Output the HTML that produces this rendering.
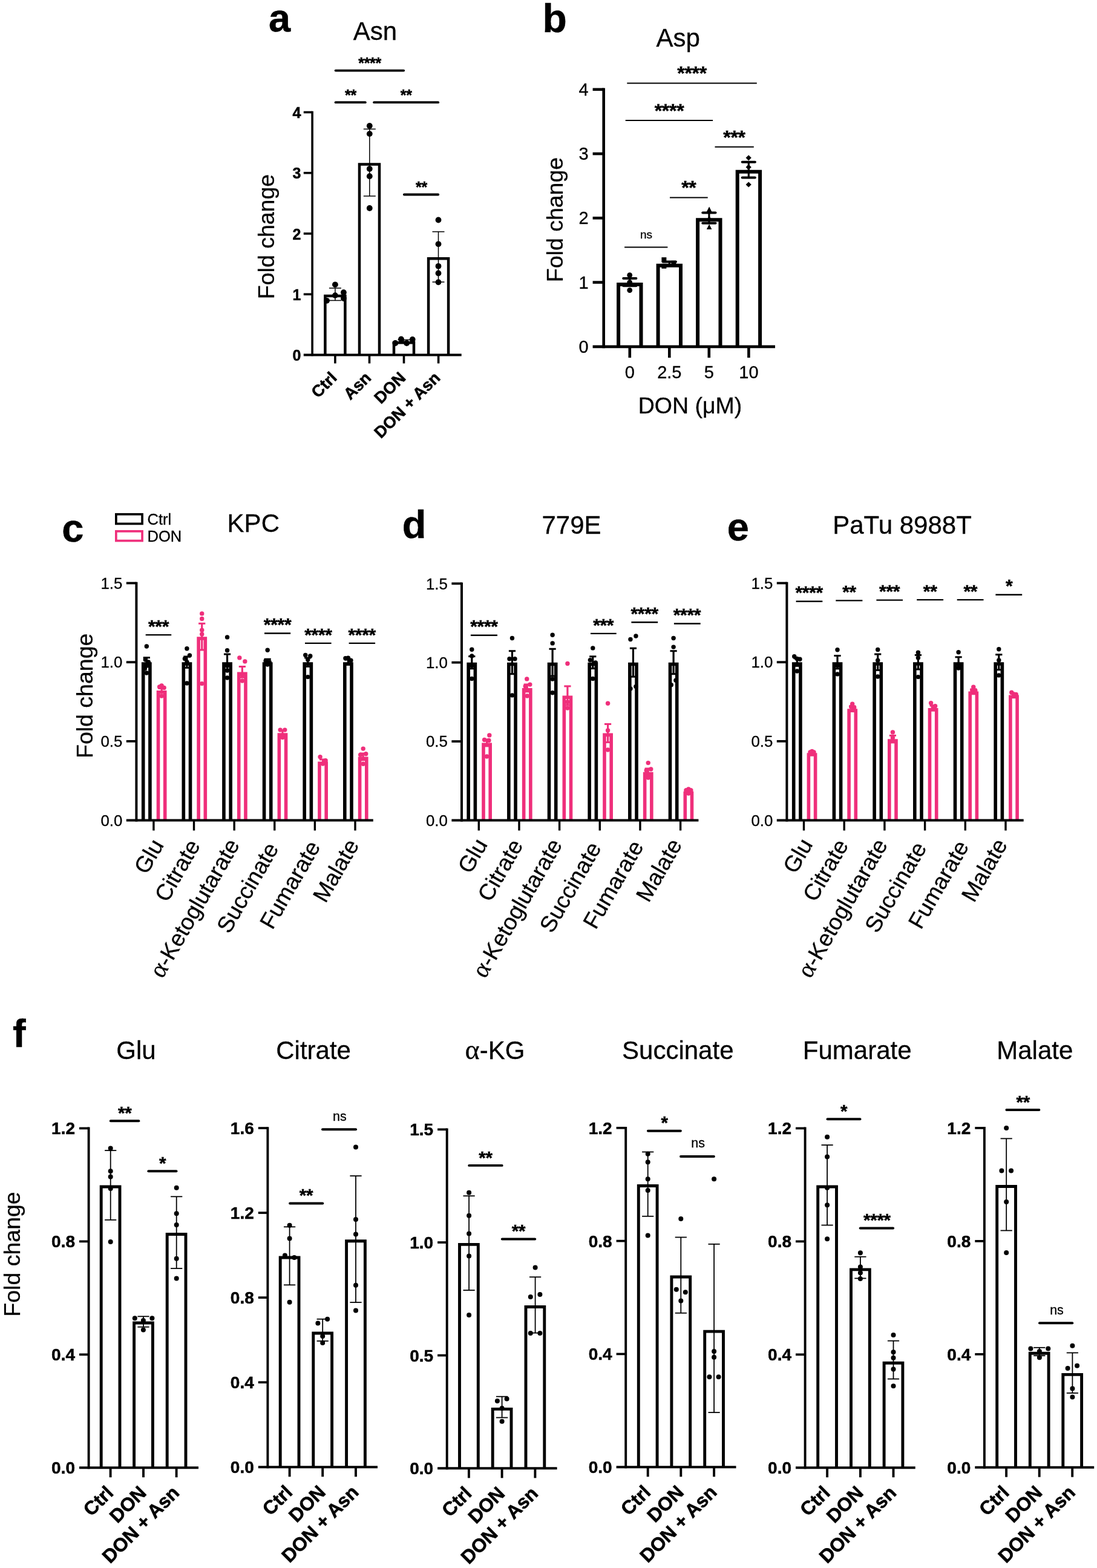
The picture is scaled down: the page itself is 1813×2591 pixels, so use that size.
<!DOCTYPE html>
<html lang="en"><head><meta charset="utf-8"><title>Figure</title>
<style>html,body{margin:0;padding:0;background:#fff}svg{display:block}text{font-family:"Liberation Sans",sans-serif;stroke:#000;stroke-width:.3px}text[font-weight=bold]{stroke-width:.5px}</style></head>
<body>
<svg width="1813" height="2591" viewBox="0 0 1813 2591">
<rect x="0" y="0" width="1813" height="2591" fill="#fff"/>
<g id="panel-a">
<text x="444" y="52.4" font-size="65" font-weight="bold" text-anchor="start">a</text>
<text x="620" y="65.7" font-size="42" text-anchor="middle">Asn</text>
<text x="453.2" y="391" font-size="37.5" text-anchor="middle" transform="rotate(-90 453.2 391)">Fold change</text>
<path d="M537.4 586.5V489H570.4V586.5" fill="#fff" stroke="#000" stroke-width="4.5" stroke-linejoin="miter"/>
<path d="M594 586.5V271.46H627V586.5" fill="#fff" stroke="#000" stroke-width="4.5" stroke-linejoin="miter"/>
<path d="M651 586.5V566.19H684V586.5" fill="#fff" stroke="#000" stroke-width="4.5" stroke-linejoin="miter"/>
<path d="M708.1 586.5V427.35H741.1V586.5" fill="#fff" stroke="#000" stroke-width="4.5" stroke-linejoin="miter"/>
<line x1="516.1" y1="183.7" x2="516.1" y2="588.3" stroke="#000" stroke-width="3.6" stroke-linecap="butt"/>
<line x1="501.8" y1="586.5" x2="762.7" y2="586.5" stroke="#000" stroke-width="3.8" stroke-linecap="butt"/>
<text x="497.5" y="596.1" font-size="25" font-weight="bold" text-anchor="end">0</text>
<line x1="501.8" y1="486.25" x2="516.1" y2="486.25" stroke="#000" stroke-width="3.6" stroke-linecap="butt"/>
<text x="497.5" y="495.85" font-size="25" font-weight="bold" text-anchor="end">1</text>
<line x1="501.8" y1="386" x2="516.1" y2="386" stroke="#000" stroke-width="3.6" stroke-linecap="butt"/>
<text x="497.5" y="395.6" font-size="25" font-weight="bold" text-anchor="end">2</text>
<line x1="501.8" y1="285.75" x2="516.1" y2="285.75" stroke="#000" stroke-width="3.6" stroke-linecap="butt"/>
<text x="497.5" y="295.35" font-size="25" font-weight="bold" text-anchor="end">3</text>
<line x1="501.8" y1="185.5" x2="516.1" y2="185.5" stroke="#000" stroke-width="3.6" stroke-linecap="butt"/>
<text x="497.5" y="195.1" font-size="25" font-weight="bold" text-anchor="end">4</text>
<line x1="553.9" y1="586.5" x2="553.9" y2="600.5" stroke="#000" stroke-width="3.6" stroke-linecap="butt"/>
<line x1="610.5" y1="586.5" x2="610.5" y2="600.5" stroke="#000" stroke-width="3.6" stroke-linecap="butt"/>
<line x1="667.5" y1="586.5" x2="667.5" y2="600.5" stroke="#000" stroke-width="3.6" stroke-linecap="butt"/>
<line x1="724.6" y1="586.5" x2="724.6" y2="600.5" stroke="#000" stroke-width="3.6" stroke-linecap="butt"/>
<line x1="553.9" y1="476.1" x2="553.9" y2="496.5" stroke="#000" stroke-width="1.5" stroke-linecap="butt"/>
<line x1="543.9" y1="476.1" x2="563.9" y2="476.1" stroke="#000" stroke-width="1.5" stroke-linecap="butt"/>
<line x1="543.9" y1="496.5" x2="563.9" y2="496.5" stroke="#000" stroke-width="1.5" stroke-linecap="butt"/>
<line x1="610.8" y1="213.3" x2="610.8" y2="324" stroke="#000" stroke-width="1.5" stroke-linecap="butt"/>
<line x1="600.8" y1="213.3" x2="620.8" y2="213.3" stroke="#000" stroke-width="1.5" stroke-linecap="butt"/>
<line x1="600.8" y1="324" x2="620.8" y2="324" stroke="#000" stroke-width="1.5" stroke-linecap="butt"/>
<line x1="667.5" y1="561.5" x2="667.5" y2="566.5" stroke="#000" stroke-width="1.5" stroke-linecap="butt"/>
<line x1="657.5" y1="561.5" x2="677.5" y2="561.5" stroke="#000" stroke-width="1.5" stroke-linecap="butt"/>
<line x1="657.5" y1="566.5" x2="677.5" y2="566.5" stroke="#000" stroke-width="1.5" stroke-linecap="butt"/>
<line x1="724.5" y1="382.9" x2="724.5" y2="466" stroke="#000" stroke-width="1.5" stroke-linecap="butt"/>
<line x1="714.5" y1="382.9" x2="734.5" y2="382.9" stroke="#000" stroke-width="1.5" stroke-linecap="butt"/>
<line x1="714.5" y1="466" x2="734.5" y2="466" stroke="#000" stroke-width="1.5" stroke-linecap="butt"/>
<circle cx="553.9" cy="470.3" r="4.9" fill="#000"/>
<circle cx="567.9" cy="483.2" r="4.9" fill="#000"/>
<circle cx="553.9" cy="488.1" r="4.9" fill="#000"/>
<circle cx="567.9" cy="493" r="4.9" fill="#000"/>
<circle cx="540" cy="496.8" r="4.9" fill="#000"/>
<circle cx="610.8" cy="208" r="4.9" fill="#000"/>
<circle cx="610.8" cy="221.1" r="4.9" fill="#000"/>
<circle cx="610.8" cy="279" r="4.9" fill="#000"/>
<circle cx="610.8" cy="291.2" r="4.9" fill="#000"/>
<circle cx="610.8" cy="344" r="4.9" fill="#000"/>
<circle cx="653.3" cy="567" r="4.9" fill="#000"/>
<circle cx="663" cy="560.4" r="4.9" fill="#000"/>
<circle cx="672.1" cy="567" r="4.9" fill="#000"/>
<circle cx="681.7" cy="561" r="4.9" fill="#000"/>
<circle cx="724.5" cy="363.5" r="4.9" fill="#000"/>
<circle cx="724.5" cy="403.3" r="4.9" fill="#000"/>
<circle cx="724.5" cy="439.8" r="4.9" fill="#000"/>
<circle cx="724.5" cy="451.5" r="4.9" fill="#000"/>
<circle cx="724.5" cy="466.3" r="4.9" fill="#000"/>
<line x1="554.6" y1="116.6" x2="667.2" y2="116.6" stroke="#000" stroke-width="3.8" stroke-linecap="round"/>
<text x="611.1" y="113.4" font-size="25" font-weight="bold" text-anchor="middle" letter-spacing="-0.3">****</text>
<line x1="554.6" y1="169.2" x2="603.8" y2="169.2" stroke="#000" stroke-width="3.8" stroke-linecap="round"/>
<text x="579.4" y="166" font-size="25" font-weight="bold" text-anchor="middle" letter-spacing="-0.3">**</text>
<line x1="618.1" y1="169.2" x2="724.2" y2="169.2" stroke="#000" stroke-width="3.8" stroke-linecap="round"/>
<text x="671.2" y="166" font-size="25" font-weight="bold" text-anchor="middle" letter-spacing="-0.3">**</text>
<line x1="667.9" y1="321.5" x2="724.2" y2="321.5" stroke="#000" stroke-width="3.8" stroke-linecap="round"/>
<text x="696.5" y="318.3" font-size="25" font-weight="bold" text-anchor="middle" letter-spacing="-0.3">**</text>
<text x="558.4" y="626" font-size="27" font-weight="bold" text-anchor="end" transform="rotate(-45 558.4 626)" style="stroke-width:.6px">Ctrl</text>
<text x="615" y="626" font-size="27" font-weight="bold" text-anchor="end" transform="rotate(-45 615 626)" style="stroke-width:.6px">Asn</text>
<text x="672" y="626" font-size="27" font-weight="bold" text-anchor="end" transform="rotate(-45 672 626)" style="stroke-width:.6px">DON</text>
<text x="729.1" y="626" font-size="27" font-weight="bold" text-anchor="end" transform="rotate(-45 729.1 626)" style="stroke-width:.6px">DON + Asn</text>
</g>
<g id="panel-b">
<text x="896.5" y="53" font-size="66" font-weight="bold" text-anchor="start">b</text>
<text x="1120.8" y="76.7" font-size="42" text-anchor="middle">Asp</text>
<text x="929.8" y="363" font-size="37.5" text-anchor="middle" transform="rotate(-90 929.8 363)">Fold change</text>
<path d="M1022.1 572.8V470.08H1059.5V572.8" fill="#fff" stroke="#000" stroke-width="6" stroke-linejoin="miter"/>
<path d="M1087.6 572.8V438.84H1125V572.8" fill="#fff" stroke="#000" stroke-width="6" stroke-linejoin="miter"/>
<path d="M1153.1 572.8V363.3H1190.5V572.8" fill="#fff" stroke="#000" stroke-width="6" stroke-linejoin="miter"/>
<path d="M1218.7 572.8V283.82H1256.1V572.8" fill="#fff" stroke="#000" stroke-width="6" stroke-linejoin="miter"/>
<line x1="997.7" y1="145.5" x2="997.7" y2="575.2" stroke="#000" stroke-width="4.6" stroke-linecap="butt"/>
<line x1="979.6" y1="572.8" x2="1281" y2="572.8" stroke="#000" stroke-width="4.8" stroke-linecap="butt"/>
<text x="972.6" y="582.8" font-size="29" text-anchor="end">0</text>
<line x1="979.6" y1="466.55" x2="997.7" y2="466.55" stroke="#000" stroke-width="4.6" stroke-linecap="butt"/>
<text x="972.6" y="476.55" font-size="29" text-anchor="end">1</text>
<line x1="979.6" y1="360.3" x2="997.7" y2="360.3" stroke="#000" stroke-width="4.6" stroke-linecap="butt"/>
<text x="972.6" y="370.3" font-size="29" text-anchor="end">2</text>
<line x1="979.6" y1="254.05" x2="997.7" y2="254.05" stroke="#000" stroke-width="4.6" stroke-linecap="butt"/>
<text x="972.6" y="264.05" font-size="29" text-anchor="end">3</text>
<line x1="979.6" y1="147.8" x2="997.7" y2="147.8" stroke="#000" stroke-width="4.6" stroke-linecap="butt"/>
<text x="972.6" y="157.8" font-size="29" text-anchor="end">4</text>
<line x1="1040.8" y1="572.8" x2="1040.8" y2="591.1" stroke="#000" stroke-width="4.6" stroke-linecap="butt"/>
<line x1="1106.3" y1="572.8" x2="1106.3" y2="591.1" stroke="#000" stroke-width="4.6" stroke-linecap="butt"/>
<line x1="1171.8" y1="572.8" x2="1171.8" y2="591.1" stroke="#000" stroke-width="4.6" stroke-linecap="butt"/>
<line x1="1237.4" y1="572.8" x2="1237.4" y2="591.1" stroke="#000" stroke-width="4.6" stroke-linecap="butt"/>
<text x="1040.8" y="625" font-size="29" text-anchor="middle">0</text>
<text x="1106.3" y="625" font-size="29" text-anchor="middle">2.5</text>
<text x="1171.8" y="625" font-size="29" text-anchor="middle">5</text>
<text x="1237.4" y="625" font-size="29" text-anchor="middle">10</text>
<text x="1140.5" y="682.7" font-size="37.5" text-anchor="middle">DON (μM)</text>
<line x1="1040.8" y1="460.1" x2="1040.8" y2="472.2" stroke="#000" stroke-width="3.2" stroke-linecap="butt"/>
<line x1="1030.2" y1="460.1" x2="1051.4" y2="460.1" stroke="#000" stroke-width="4" stroke-linecap="round"/>
<line x1="1030.2" y1="472.2" x2="1051.4" y2="472.2" stroke="#000" stroke-width="4" stroke-linecap="round"/>
<line x1="1106.3" y1="432.5" x2="1106.3" y2="438.8" stroke="#000" stroke-width="3.2" stroke-linecap="butt"/>
<line x1="1095.7" y1="432.5" x2="1116.9" y2="432.5" stroke="#000" stroke-width="4" stroke-linecap="round"/>
<line x1="1095.7" y1="438.8" x2="1116.9" y2="438.8" stroke="#000" stroke-width="4" stroke-linecap="round"/>
<line x1="1171.9" y1="351.4" x2="1171.9" y2="368.8" stroke="#000" stroke-width="3.2" stroke-linecap="butt"/>
<line x1="1161.3" y1="351.4" x2="1182.5" y2="351.4" stroke="#000" stroke-width="4" stroke-linecap="round"/>
<line x1="1161.3" y1="368.8" x2="1182.5" y2="368.8" stroke="#000" stroke-width="4" stroke-linecap="round"/>
<line x1="1237.3" y1="267.8" x2="1237.3" y2="293.5" stroke="#000" stroke-width="3.2" stroke-linecap="butt"/>
<line x1="1226.7" y1="267.8" x2="1247.9" y2="267.8" stroke="#000" stroke-width="4" stroke-linecap="round"/>
<line x1="1226.7" y1="293.5" x2="1247.9" y2="293.5" stroke="#000" stroke-width="4" stroke-linecap="round"/>
<circle cx="1040.7" cy="454.7" r="4.4" fill="#000"/>
<circle cx="1040.7" cy="466.7" r="4.4" fill="#000"/>
<circle cx="1040.7" cy="479.6" r="4.4" fill="#000"/>
<polygon points="1093.4,425.2 1101.4,425.2 1101.4,433.2 1093.4,433.2" fill="#000"/>
<polygon points="1093.4,435.8 1101.4,435.8 1101.4,443.8 1093.4,443.8" fill="#000"/>
<polygon points="1109.4,430.8 1117.4,430.8 1117.4,438.8 1109.4,438.8" fill="#000"/>
<polygon points="1172.1,341.4 1176.4,349.9 1167.8,349.9" fill="#000"/>
<polygon points="1172.1,356 1176.4,364.5 1167.8,364.5" fill="#000"/>
<polygon points="1172.1,370.6 1176.4,379.1 1167.8,379.1" fill="#000"/>
<polygon points="1237.2,256.2 1241.8,260.8 1237.2,265.4 1232.6,260.8" fill="#000"/>
<polygon points="1237.2,271.6 1241.8,276.2 1237.2,280.8 1232.6,276.2" fill="#000"/>
<polygon points="1237.2,300.4 1241.8,305 1237.2,309.6 1232.6,305" fill="#000"/>
<line x1="1036.3" y1="137.4" x2="1250.8" y2="137.4" stroke="#000" stroke-width="2" stroke-linecap="butt"/>
<text x="1143.6" y="132.2" font-size="32" font-weight="bold" text-anchor="middle" letter-spacing="-0.3">****</text>
<line x1="1033.7" y1="198.9" x2="1178.1" y2="198.9" stroke="#000" stroke-width="2" stroke-linecap="butt"/>
<text x="1106" y="193.7" font-size="32" font-weight="bold" text-anchor="middle" letter-spacing="-0.3">****</text>
<line x1="1181.5" y1="242.7" x2="1245.8" y2="242.7" stroke="#000" stroke-width="2" stroke-linecap="butt"/>
<text x="1213.5" y="237.5" font-size="32" font-weight="bold" text-anchor="middle" letter-spacing="-0.3">***</text>
<line x1="1107" y1="326.4" x2="1169.7" y2="326.4" stroke="#000" stroke-width="2" stroke-linecap="butt"/>
<text x="1138.3" y="321.2" font-size="32" font-weight="bold" text-anchor="middle" letter-spacing="-0.3">**</text>
<line x1="1032.1" y1="408.6" x2="1103.4" y2="408.6" stroke="#000" stroke-width="2" stroke-linecap="butt"/>
<text x="1068" y="393.7" font-size="19" text-anchor="middle">ns</text>
</g>
<g id="legend">
<rect x="191.85" y="849.75" width="43.2" height="15.7" fill="#fff" stroke="#000" stroke-width="3.7"/>
<rect x="191.85" y="877.85" width="43.2" height="15.7" fill="#fff" stroke="#EF2F7B" stroke-width="3.7"/>
<text x="243.6" y="866.8" font-size="25.5" text-anchor="start">Ctrl</text>
<text x="243.6" y="894.8" font-size="25.5" text-anchor="start">DON</text>
<text x="153.3" y="1149.8" font-size="37.5" text-anchor="middle" transform="rotate(-90 153.3 1149.8)">Fold change</text>
</g>
<g id="panel-c">
<path d="M236.7 1355.5V1097H247.9V1355.5" fill="#fff" stroke="#000" stroke-width="5.6" stroke-linejoin="miter"/>
<path d="M261.5 1355.5V1143.77H272.7V1355.5" fill="#fff" stroke="#EF2F7B" stroke-width="5.6" stroke-linejoin="miter"/>
<path d="M303.32 1355.5V1097H314.52V1355.5" fill="#fff" stroke="#000" stroke-width="5.6" stroke-linejoin="miter"/>
<path d="M328.12 1355.5V1054.93H339.32V1355.5" fill="#fff" stroke="#EF2F7B" stroke-width="5.6" stroke-linejoin="miter"/>
<path d="M369.94 1355.5V1097H381.14V1355.5" fill="#fff" stroke="#000" stroke-width="5.6" stroke-linejoin="miter"/>
<path d="M394.74 1355.5V1113.2H405.94V1355.5" fill="#fff" stroke="#EF2F7B" stroke-width="5.6" stroke-linejoin="miter"/>
<path d="M436.56 1355.5V1097H447.76V1355.5" fill="#fff" stroke="#000" stroke-width="5.6" stroke-linejoin="miter"/>
<path d="M461.36 1355.5V1214.06H472.56V1355.5" fill="#fff" stroke="#EF2F7B" stroke-width="5.6" stroke-linejoin="miter"/>
<path d="M503.18 1355.5V1097H514.38V1355.5" fill="#fff" stroke="#000" stroke-width="5.6" stroke-linejoin="miter"/>
<path d="M527.98 1355.5V1261.36H539.18V1355.5" fill="#fff" stroke="#EF2F7B" stroke-width="5.6" stroke-linejoin="miter"/>
<path d="M569.8 1355.5V1097H581V1355.5" fill="#fff" stroke="#000" stroke-width="5.6" stroke-linejoin="miter"/>
<path d="M594.6 1355.5V1253.26H605.8V1355.5" fill="#fff" stroke="#EF2F7B" stroke-width="5.6" stroke-linejoin="miter"/>
<line x1="242.3" y1="1086.7" x2="242.3" y2="1101.7" stroke="#000" stroke-width="3.2" stroke-linecap="butt"/>
<line x1="236.7" y1="1086.7" x2="247.9" y2="1086.7" stroke="#000" stroke-width="3" stroke-linecap="butt"/>
<line x1="236.7" y1="1101.7" x2="247.9" y2="1101.7" stroke="#000" stroke-width="3" stroke-linecap="butt"/>
<line x1="267.1" y1="1137.5" x2="267.1" y2="1144.45" stroke="#EF2F7B" stroke-width="3.2" stroke-linecap="butt"/>
<line x1="261.5" y1="1137.5" x2="272.7" y2="1137.5" stroke="#EF2F7B" stroke-width="3" stroke-linecap="butt"/>
<line x1="261.5" y1="1144.45" x2="272.7" y2="1144.45" stroke="#EF2F7B" stroke-width="3" stroke-linecap="butt"/>
<line x1="308.92" y1="1085" x2="308.92" y2="1103.4" stroke="#000" stroke-width="3.2" stroke-linecap="butt"/>
<line x1="303.32" y1="1085" x2="314.52" y2="1085" stroke="#000" stroke-width="3" stroke-linecap="butt"/>
<line x1="303.32" y1="1103.4" x2="314.52" y2="1103.4" stroke="#000" stroke-width="3" stroke-linecap="butt"/>
<line x1="333.72" y1="1030.3" x2="333.72" y2="1073.96" stroke="#EF2F7B" stroke-width="3.2" stroke-linecap="butt"/>
<line x1="328.12" y1="1030.3" x2="339.32" y2="1030.3" stroke="#EF2F7B" stroke-width="3" stroke-linecap="butt"/>
<line x1="328.12" y1="1073.96" x2="339.32" y2="1073.96" stroke="#EF2F7B" stroke-width="3" stroke-linecap="butt"/>
<line x1="375.54" y1="1081" x2="375.54" y2="1107.4" stroke="#000" stroke-width="3.2" stroke-linecap="butt"/>
<line x1="369.94" y1="1081" x2="381.14" y2="1081" stroke="#000" stroke-width="3" stroke-linecap="butt"/>
<line x1="369.94" y1="1107.4" x2="381.14" y2="1107.4" stroke="#000" stroke-width="3" stroke-linecap="butt"/>
<line x1="400.34" y1="1101.5" x2="400.34" y2="1119.3" stroke="#EF2F7B" stroke-width="3.2" stroke-linecap="butt"/>
<line x1="394.74" y1="1101.5" x2="405.94" y2="1101.5" stroke="#EF2F7B" stroke-width="3" stroke-linecap="butt"/>
<line x1="394.74" y1="1119.3" x2="405.94" y2="1119.3" stroke="#EF2F7B" stroke-width="3" stroke-linecap="butt"/>
<line x1="442.16" y1="1089.2" x2="442.16" y2="1099.2" stroke="#000" stroke-width="3.2" stroke-linecap="butt"/>
<line x1="436.56" y1="1089.2" x2="447.76" y2="1089.2" stroke="#000" stroke-width="3" stroke-linecap="butt"/>
<line x1="436.56" y1="1099.2" x2="447.76" y2="1099.2" stroke="#000" stroke-width="3" stroke-linecap="butt"/>
<line x1="466.96" y1="1207.5" x2="466.96" y2="1215.02" stroke="#EF2F7B" stroke-width="3.2" stroke-linecap="butt"/>
<line x1="461.36" y1="1207.5" x2="472.56" y2="1207.5" stroke="#EF2F7B" stroke-width="3" stroke-linecap="butt"/>
<line x1="461.36" y1="1215.02" x2="472.56" y2="1215.02" stroke="#EF2F7B" stroke-width="3" stroke-linecap="butt"/>
<line x1="508.78" y1="1087" x2="508.78" y2="1101.4" stroke="#000" stroke-width="3.2" stroke-linecap="butt"/>
<line x1="503.18" y1="1087" x2="514.38" y2="1087" stroke="#000" stroke-width="3" stroke-linecap="butt"/>
<line x1="503.18" y1="1101.4" x2="514.38" y2="1101.4" stroke="#000" stroke-width="3" stroke-linecap="butt"/>
<line x1="533.58" y1="1255" x2="533.58" y2="1262.12" stroke="#EF2F7B" stroke-width="3.2" stroke-linecap="butt"/>
<line x1="527.98" y1="1255" x2="539.18" y2="1255" stroke="#EF2F7B" stroke-width="3" stroke-linecap="butt"/>
<line x1="527.98" y1="1262.12" x2="539.18" y2="1262.12" stroke="#EF2F7B" stroke-width="3" stroke-linecap="butt"/>
<line x1="575.4" y1="1090" x2="575.4" y2="1098.4" stroke="#000" stroke-width="3.2" stroke-linecap="butt"/>
<line x1="569.8" y1="1090" x2="581" y2="1090" stroke="#000" stroke-width="3" stroke-linecap="butt"/>
<line x1="569.8" y1="1098.4" x2="581" y2="1098.4" stroke="#000" stroke-width="3" stroke-linecap="butt"/>
<line x1="600.2" y1="1245" x2="600.2" y2="1255.91" stroke="#EF2F7B" stroke-width="3.2" stroke-linecap="butt"/>
<line x1="594.6" y1="1245" x2="605.8" y2="1245" stroke="#EF2F7B" stroke-width="3" stroke-linecap="butt"/>
<line x1="594.6" y1="1255.91" x2="605.8" y2="1255.91" stroke="#EF2F7B" stroke-width="3" stroke-linecap="butt"/>
<circle cx="242.3" cy="1068" r="3.7" fill="#000"/>
<circle cx="240.3" cy="1090" r="3.7" fill="#000"/>
<circle cx="245.3" cy="1094" r="3.7" fill="#000"/>
<circle cx="242.3" cy="1100" r="3.7" fill="#000"/>
<circle cx="239.3" cy="1105" r="3.7" fill="#000"/>
<circle cx="242.3" cy="1112" r="3.7" fill="#000"/>
<circle cx="263.6" cy="1135" r="3.7" fill="#EF2F7B"/>
<circle cx="267.1" cy="1133" r="3.7" fill="#EF2F7B"/>
<circle cx="271.1" cy="1136.4" r="3.7" fill="#EF2F7B"/>
<circle cx="267.1" cy="1150" r="3.7" fill="#EF2F7B"/>
<circle cx="308.92" cy="1071.7" r="3.7" fill="#000"/>
<circle cx="313.42" cy="1083" r="3.7" fill="#000"/>
<circle cx="305.42" cy="1088.5" r="3.7" fill="#000"/>
<circle cx="308.92" cy="1094" r="3.7" fill="#000"/>
<circle cx="308.92" cy="1129" r="3.7" fill="#000"/>
<circle cx="333.72" cy="1013.9" r="3.7" fill="#EF2F7B"/>
<circle cx="333.72" cy="1022.5" r="3.7" fill="#EF2F7B"/>
<circle cx="333.72" cy="1041.3" r="3.7" fill="#EF2F7B"/>
<circle cx="333.72" cy="1048" r="3.7" fill="#EF2F7B"/>
<circle cx="333.72" cy="1129.6" r="3.7" fill="#EF2F7B"/>
<circle cx="375.54" cy="1052.9" r="3.7" fill="#000"/>
<circle cx="375.54" cy="1074.8" r="3.7" fill="#000"/>
<circle cx="375.54" cy="1100" r="3.7" fill="#000"/>
<circle cx="375.54" cy="1108" r="3.7" fill="#000"/>
<circle cx="375.54" cy="1120" r="3.7" fill="#000"/>
<circle cx="395.84" cy="1086.9" r="3.7" fill="#EF2F7B"/>
<circle cx="404.84" cy="1092.9" r="3.7" fill="#EF2F7B"/>
<circle cx="400.34" cy="1115" r="3.7" fill="#EF2F7B"/>
<circle cx="400.34" cy="1125" r="3.7" fill="#EF2F7B"/>
<circle cx="442.16" cy="1074.2" r="3.7" fill="#000"/>
<circle cx="439.16" cy="1092" r="3.7" fill="#000"/>
<circle cx="445.16" cy="1094" r="3.7" fill="#000"/>
<circle cx="442.16" cy="1098" r="3.7" fill="#000"/>
<circle cx="463.16" cy="1206.1" r="3.7" fill="#EF2F7B"/>
<circle cx="470.76" cy="1206.1" r="3.7" fill="#EF2F7B"/>
<circle cx="466.96" cy="1218.5" r="3.7" fill="#EF2F7B"/>
<circle cx="504.78" cy="1082.4" r="3.7" fill="#000"/>
<circle cx="512.78" cy="1084" r="3.7" fill="#000"/>
<circle cx="508.78" cy="1090" r="3.7" fill="#000"/>
<circle cx="508.78" cy="1118.6" r="3.7" fill="#000"/>
<circle cx="529.08" cy="1250.8" r="3.7" fill="#EF2F7B"/>
<circle cx="538.08" cy="1256.8" r="3.7" fill="#EF2F7B"/>
<circle cx="533.58" cy="1262" r="3.7" fill="#EF2F7B"/>
<circle cx="570.9" cy="1087.8" r="3.7" fill="#000"/>
<circle cx="575.4" cy="1087.2" r="3.7" fill="#000"/>
<circle cx="579.9" cy="1091.3" r="3.7" fill="#000"/>
<circle cx="600.2" cy="1237.1" r="3.7" fill="#EF2F7B"/>
<circle cx="595.7" cy="1247.2" r="3.7" fill="#EF2F7B"/>
<circle cx="604.7" cy="1245.8" r="3.7" fill="#EF2F7B"/>
<circle cx="600.2" cy="1262.3" r="3.7" fill="#EF2F7B"/>
<line x1="225.4" y1="961.65" x2="225.4" y2="1357.4" stroke="#000" stroke-width="4" stroke-linecap="butt"/>
<line x1="208.8" y1="1355.5" x2="616.8" y2="1355.5" stroke="#000" stroke-width="3.8" stroke-linecap="butt"/>
<text x="202.3" y="1364.7" font-size="25.8" text-anchor="end">0.0</text>
<line x1="208.8" y1="1224.85" x2="225.4" y2="1224.85" stroke="#000" stroke-width="3.8" stroke-linecap="butt"/>
<text x="202.3" y="1234.05" font-size="25.8" text-anchor="end">0.5</text>
<line x1="208.8" y1="1094.2" x2="225.4" y2="1094.2" stroke="#000" stroke-width="3.8" stroke-linecap="butt"/>
<text x="202.3" y="1103.4" font-size="25.8" text-anchor="end">1.0</text>
<line x1="208.8" y1="963.55" x2="225.4" y2="963.55" stroke="#000" stroke-width="3.8" stroke-linecap="butt"/>
<text x="202.3" y="972.75" font-size="25.8" text-anchor="end">1.5</text>
<line x1="253.9" y1="1355.5" x2="253.9" y2="1372.4" stroke="#000" stroke-width="3.4" stroke-linecap="butt"/>
<line x1="320.52" y1="1355.5" x2="320.52" y2="1372.4" stroke="#000" stroke-width="3.4" stroke-linecap="butt"/>
<line x1="387.14" y1="1355.5" x2="387.14" y2="1372.4" stroke="#000" stroke-width="3.4" stroke-linecap="butt"/>
<line x1="453.76" y1="1355.5" x2="453.76" y2="1372.4" stroke="#000" stroke-width="3.4" stroke-linecap="butt"/>
<line x1="520.38" y1="1355.5" x2="520.38" y2="1372.4" stroke="#000" stroke-width="3.4" stroke-linecap="butt"/>
<line x1="587" y1="1355.5" x2="587" y2="1372.4" stroke="#000" stroke-width="3.4" stroke-linecap="butt"/>
<line x1="240.7" y1="1049.1" x2="283.2" y2="1049.1" stroke="#000" stroke-width="2.4" stroke-linecap="butt"/>
<text x="262" y="1044.7" font-size="30" font-weight="bold" text-anchor="middle" letter-spacing="-0.3">***</text>
<line x1="437" y1="1046.5" x2="480.2" y2="1046.5" stroke="#000" stroke-width="2.4" stroke-linecap="butt"/>
<text x="458.6" y="1042.1" font-size="30" font-weight="bold" text-anchor="middle" letter-spacing="-0.3">****</text>
<line x1="504" y1="1062.9" x2="547.6" y2="1062.9" stroke="#000" stroke-width="2.4" stroke-linecap="butt"/>
<text x="525.9" y="1058.5" font-size="30" font-weight="bold" text-anchor="middle" letter-spacing="-0.3">****</text>
<line x1="576.6" y1="1062.9" x2="620.1" y2="1062.9" stroke="#000" stroke-width="2.4" stroke-linecap="butt"/>
<text x="598.2" y="1058.5" font-size="30" font-weight="bold" text-anchor="middle" letter-spacing="-0.3">****</text>
<text x="271.6" y="1396.3" font-size="37.5" text-anchor="end" transform="rotate(-60 271.6 1396.3)">Glu</text>
<text x="331.82" y="1397" font-size="37.5" text-anchor="end" transform="rotate(-60 331.82 1397)">Citrate</text>
<text x="397.04" y="1395.7" font-size="37.5" text-anchor="end" transform="rotate(-60 397.04 1395.7)"><tspan font-family="Liberation Serif,serif" font-size="41">α</tspan>-Ketoglutarate</text>
<text x="461.46" y="1401.9" font-size="37.5" text-anchor="end" transform="rotate(-60 461.46 1401.9)">Succinate</text>
<text x="530.48" y="1398.8" font-size="37.5" text-anchor="end" transform="rotate(-60 530.48 1398.8)">Fumarate</text>
<text x="594.4" y="1396.3" font-size="37.5" text-anchor="end" transform="rotate(-60 594.4 1396.3)">Malate</text>
<text x="418.8" y="879.2" font-size="42" text-anchor="middle">KPC</text>
<text x="102.3" y="895.4" font-size="65" font-weight="bold" text-anchor="start">c</text>
</g>
<g id="panel-d">
<path d="M774.2 1355.5V1097.5H785.4V1355.5" fill="#fff" stroke="#000" stroke-width="5.6" stroke-linejoin="miter"/>
<path d="M799 1355.5V1230.25H810.2V1355.5" fill="#fff" stroke="#EF2F7B" stroke-width="5.6" stroke-linejoin="miter"/>
<path d="M840.86 1355.5V1097.5H852.06V1355.5" fill="#fff" stroke="#000" stroke-width="5.6" stroke-linejoin="miter"/>
<path d="M865.66 1355.5V1139.75H876.86V1355.5" fill="#fff" stroke="#EF2F7B" stroke-width="5.6" stroke-linejoin="miter"/>
<path d="M907.52 1355.5V1097.5H918.72V1355.5" fill="#fff" stroke="#000" stroke-width="5.6" stroke-linejoin="miter"/>
<path d="M932.32 1355.5V1152.27H943.52V1355.5" fill="#fff" stroke="#EF2F7B" stroke-width="5.6" stroke-linejoin="miter"/>
<path d="M974.18 1355.5V1097.5H985.38V1355.5" fill="#fff" stroke="#000" stroke-width="5.6" stroke-linejoin="miter"/>
<path d="M998.98 1355.5V1214.34H1010.18V1355.5" fill="#fff" stroke="#EF2F7B" stroke-width="5.6" stroke-linejoin="miter"/>
<path d="M1040.84 1355.5V1097.5H1052.04V1355.5" fill="#fff" stroke="#000" stroke-width="5.6" stroke-linejoin="miter"/>
<path d="M1065.64 1355.5V1278.5H1076.84V1355.5" fill="#fff" stroke="#EF2F7B" stroke-width="5.6" stroke-linejoin="miter"/>
<path d="M1107.5 1355.5V1097.5H1118.7V1355.5" fill="#fff" stroke="#000" stroke-width="5.6" stroke-linejoin="miter"/>
<path d="M1132.3 1355.5V1310.57H1143.5V1355.5" fill="#fff" stroke="#EF2F7B" stroke-width="5.6" stroke-linejoin="miter"/>
<line x1="779.8" y1="1084.6" x2="779.8" y2="1104.8" stroke="#000" stroke-width="3.2" stroke-linecap="butt"/>
<line x1="774.2" y1="1084.6" x2="785.4" y2="1084.6" stroke="#000" stroke-width="3" stroke-linecap="butt"/>
<line x1="774.2" y1="1104.8" x2="785.4" y2="1104.8" stroke="#000" stroke-width="3" stroke-linecap="butt"/>
<line x1="804.6" y1="1222" x2="804.6" y2="1232.89" stroke="#EF2F7B" stroke-width="3.2" stroke-linecap="butt"/>
<line x1="799" y1="1222" x2="810.2" y2="1222" stroke="#EF2F7B" stroke-width="3" stroke-linecap="butt"/>
<line x1="799" y1="1232.89" x2="810.2" y2="1232.89" stroke="#EF2F7B" stroke-width="3" stroke-linecap="butt"/>
<line x1="846.46" y1="1075.7" x2="846.46" y2="1113.7" stroke="#000" stroke-width="3.2" stroke-linecap="butt"/>
<line x1="840.86" y1="1075.7" x2="852.06" y2="1075.7" stroke="#000" stroke-width="3" stroke-linecap="butt"/>
<line x1="840.86" y1="1113.7" x2="852.06" y2="1113.7" stroke="#000" stroke-width="3" stroke-linecap="butt"/>
<line x1="871.26" y1="1131" x2="871.26" y2="1142.9" stroke="#EF2F7B" stroke-width="3.2" stroke-linecap="butt"/>
<line x1="865.66" y1="1131" x2="876.86" y2="1131" stroke="#EF2F7B" stroke-width="3" stroke-linecap="butt"/>
<line x1="865.66" y1="1142.9" x2="876.86" y2="1142.9" stroke="#EF2F7B" stroke-width="3" stroke-linecap="butt"/>
<line x1="913.12" y1="1072.3" x2="913.12" y2="1117.1" stroke="#000" stroke-width="3.2" stroke-linecap="butt"/>
<line x1="907.52" y1="1072.3" x2="918.72" y2="1072.3" stroke="#000" stroke-width="3" stroke-linecap="butt"/>
<line x1="907.52" y1="1117.1" x2="918.72" y2="1117.1" stroke="#000" stroke-width="3" stroke-linecap="butt"/>
<line x1="937.92" y1="1133.9" x2="937.92" y2="1165.04" stroke="#EF2F7B" stroke-width="3.2" stroke-linecap="butt"/>
<line x1="932.32" y1="1133.9" x2="943.52" y2="1133.9" stroke="#EF2F7B" stroke-width="3" stroke-linecap="butt"/>
<line x1="932.32" y1="1165.04" x2="943.52" y2="1165.04" stroke="#EF2F7B" stroke-width="3" stroke-linecap="butt"/>
<line x1="979.78" y1="1084.8" x2="979.78" y2="1104.6" stroke="#000" stroke-width="3.2" stroke-linecap="butt"/>
<line x1="974.18" y1="1084.8" x2="985.38" y2="1084.8" stroke="#000" stroke-width="3" stroke-linecap="butt"/>
<line x1="974.18" y1="1104.6" x2="985.38" y2="1104.6" stroke="#000" stroke-width="3" stroke-linecap="butt"/>
<line x1="1004.58" y1="1196.5" x2="1004.58" y2="1226.58" stroke="#EF2F7B" stroke-width="3.2" stroke-linecap="butt"/>
<line x1="998.98" y1="1196.5" x2="1010.18" y2="1196.5" stroke="#EF2F7B" stroke-width="3" stroke-linecap="butt"/>
<line x1="998.98" y1="1226.58" x2="1010.18" y2="1226.58" stroke="#EF2F7B" stroke-width="3" stroke-linecap="butt"/>
<line x1="1046.44" y1="1071.2" x2="1046.44" y2="1118.2" stroke="#000" stroke-width="3.2" stroke-linecap="butt"/>
<line x1="1040.84" y1="1071.2" x2="1052.04" y2="1071.2" stroke="#000" stroke-width="3" stroke-linecap="butt"/>
<line x1="1040.84" y1="1118.2" x2="1052.04" y2="1118.2" stroke="#000" stroke-width="3" stroke-linecap="butt"/>
<line x1="1071.24" y1="1270" x2="1071.24" y2="1281.39" stroke="#EF2F7B" stroke-width="3.2" stroke-linecap="butt"/>
<line x1="1065.64" y1="1270" x2="1076.84" y2="1270" stroke="#EF2F7B" stroke-width="3" stroke-linecap="butt"/>
<line x1="1065.64" y1="1281.39" x2="1076.84" y2="1281.39" stroke="#EF2F7B" stroke-width="3" stroke-linecap="butt"/>
<line x1="1113.1" y1="1075.7" x2="1113.1" y2="1113.7" stroke="#000" stroke-width="3.2" stroke-linecap="butt"/>
<line x1="1107.5" y1="1075.7" x2="1118.7" y2="1075.7" stroke="#000" stroke-width="3" stroke-linecap="butt"/>
<line x1="1107.5" y1="1113.7" x2="1118.7" y2="1113.7" stroke="#000" stroke-width="3" stroke-linecap="butt"/>
<line x1="1137.9" y1="1304" x2="1137.9" y2="1311.55" stroke="#EF2F7B" stroke-width="3.2" stroke-linecap="butt"/>
<line x1="1132.3" y1="1304" x2="1143.5" y2="1304" stroke="#EF2F7B" stroke-width="3" stroke-linecap="butt"/>
<line x1="1132.3" y1="1311.55" x2="1143.5" y2="1311.55" stroke="#EF2F7B" stroke-width="3" stroke-linecap="butt"/>
<circle cx="779.8" cy="1073.3" r="3.7" fill="#000"/>
<circle cx="779.8" cy="1083.9" r="3.7" fill="#000"/>
<circle cx="779.8" cy="1100" r="3.7" fill="#000"/>
<circle cx="779.8" cy="1121.5" r="3.7" fill="#000"/>
<circle cx="808.8" cy="1214.9" r="3.7" fill="#EF2F7B"/>
<circle cx="800.6" cy="1222.5" r="3.7" fill="#EF2F7B"/>
<circle cx="807.9" cy="1223.4" r="3.7" fill="#EF2F7B"/>
<circle cx="804.6" cy="1250" r="3.7" fill="#EF2F7B"/>
<circle cx="846.46" cy="1054.5" r="3.7" fill="#000"/>
<circle cx="841.96" cy="1088.7" r="3.7" fill="#000"/>
<circle cx="850.96" cy="1088.7" r="3.7" fill="#000"/>
<circle cx="846.46" cy="1148.9" r="3.7" fill="#000"/>
<circle cx="870.76" cy="1121.9" r="3.7" fill="#EF2F7B"/>
<circle cx="875.86" cy="1131.1" r="3.7" fill="#EF2F7B"/>
<circle cx="868.26" cy="1134" r="3.7" fill="#EF2F7B"/>
<circle cx="871.26" cy="1150" r="3.7" fill="#EF2F7B"/>
<circle cx="913.12" cy="1049.3" r="3.7" fill="#000"/>
<circle cx="913.12" cy="1062.9" r="3.7" fill="#000"/>
<circle cx="913.12" cy="1122" r="3.7" fill="#000"/>
<circle cx="913.12" cy="1144.8" r="3.7" fill="#000"/>
<circle cx="937.92" cy="1096.5" r="3.7" fill="#EF2F7B"/>
<circle cx="937.92" cy="1160" r="3.7" fill="#EF2F7B"/>
<circle cx="937.92" cy="1170" r="3.7" fill="#EF2F7B"/>
<circle cx="979.78" cy="1070.9" r="3.7" fill="#000"/>
<circle cx="975.38" cy="1090.7" r="3.7" fill="#000"/>
<circle cx="984.28" cy="1095" r="3.7" fill="#000"/>
<circle cx="979.78" cy="1121.5" r="3.7" fill="#000"/>
<circle cx="1004.58" cy="1162.3" r="3.7" fill="#EF2F7B"/>
<circle cx="1004.58" cy="1207" r="3.7" fill="#EF2F7B"/>
<circle cx="1004.58" cy="1239" r="3.7" fill="#EF2F7B"/>
<circle cx="1041.94" cy="1056.5" r="3.7" fill="#000"/>
<circle cx="1050.94" cy="1051" r="3.7" fill="#000"/>
<circle cx="1041.94" cy="1138" r="3.7" fill="#000"/>
<circle cx="1050.94" cy="1134.5" r="3.7" fill="#000"/>
<circle cx="1071.24" cy="1260.6" r="3.7" fill="#EF2F7B"/>
<circle cx="1075.74" cy="1271" r="3.7" fill="#EF2F7B"/>
<circle cx="1068.24" cy="1273" r="3.7" fill="#EF2F7B"/>
<circle cx="1071.24" cy="1285" r="3.7" fill="#EF2F7B"/>
<circle cx="1113.1" cy="1054.5" r="3.7" fill="#000"/>
<circle cx="1113.1" cy="1069.1" r="3.7" fill="#000"/>
<circle cx="1116.9" cy="1124.3" r="3.7" fill="#000"/>
<circle cx="1109.3" cy="1131.8" r="3.7" fill="#000"/>
<circle cx="1133.9" cy="1306" r="3.7" fill="#EF2F7B"/>
<circle cx="1137.9" cy="1304" r="3.7" fill="#EF2F7B"/>
<circle cx="1141.9" cy="1306" r="3.7" fill="#EF2F7B"/>
<circle cx="1137.9" cy="1311" r="3.7" fill="#EF2F7B"/>
<line x1="763" y1="962.4" x2="763" y2="1357.4" stroke="#000" stroke-width="4" stroke-linecap="butt"/>
<line x1="746.4" y1="1355.5" x2="1154.4" y2="1355.5" stroke="#000" stroke-width="3.8" stroke-linecap="butt"/>
<text x="739.9" y="1364.7" font-size="25.8" text-anchor="end">0.0</text>
<line x1="746.4" y1="1225.1" x2="763" y2="1225.1" stroke="#000" stroke-width="3.8" stroke-linecap="butt"/>
<text x="739.9" y="1234.3" font-size="25.8" text-anchor="end">0.5</text>
<line x1="746.4" y1="1094.7" x2="763" y2="1094.7" stroke="#000" stroke-width="3.8" stroke-linecap="butt"/>
<text x="739.9" y="1103.9" font-size="25.8" text-anchor="end">1.0</text>
<line x1="746.4" y1="964.3" x2="763" y2="964.3" stroke="#000" stroke-width="3.8" stroke-linecap="butt"/>
<text x="739.9" y="973.5" font-size="25.8" text-anchor="end">1.5</text>
<line x1="791.3" y1="1355.5" x2="791.3" y2="1372.4" stroke="#000" stroke-width="3.4" stroke-linecap="butt"/>
<line x1="857.96" y1="1355.5" x2="857.96" y2="1372.4" stroke="#000" stroke-width="3.4" stroke-linecap="butt"/>
<line x1="924.62" y1="1355.5" x2="924.62" y2="1372.4" stroke="#000" stroke-width="3.4" stroke-linecap="butt"/>
<line x1="991.28" y1="1355.5" x2="991.28" y2="1372.4" stroke="#000" stroke-width="3.4" stroke-linecap="butt"/>
<line x1="1057.94" y1="1355.5" x2="1057.94" y2="1372.4" stroke="#000" stroke-width="3.4" stroke-linecap="butt"/>
<line x1="1124.6" y1="1355.5" x2="1124.6" y2="1372.4" stroke="#000" stroke-width="3.4" stroke-linecap="butt"/>
<line x1="777.9" y1="1049.7" x2="822" y2="1049.7" stroke="#000" stroke-width="2.4" stroke-linecap="butt"/>
<text x="800" y="1045.3" font-size="30" font-weight="bold" text-anchor="middle" letter-spacing="-0.3">****</text>
<line x1="976" y1="1046.9" x2="1018.7" y2="1046.9" stroke="#000" stroke-width="2.4" stroke-linecap="butt"/>
<text x="997.2" y="1042.5" font-size="30" font-weight="bold" text-anchor="middle" letter-spacing="-0.3">***</text>
<line x1="1043.4" y1="1028.2" x2="1087.2" y2="1028.2" stroke="#000" stroke-width="2.4" stroke-linecap="butt"/>
<text x="1065.2" y="1023.8" font-size="30" font-weight="bold" text-anchor="middle" letter-spacing="-0.3">****</text>
<line x1="1113.9" y1="1030.5" x2="1157.7" y2="1030.5" stroke="#000" stroke-width="2.4" stroke-linecap="butt"/>
<text x="1135.5" y="1026.1" font-size="30" font-weight="bold" text-anchor="middle" letter-spacing="-0.3">****</text>
<text x="806.6" y="1395.3" font-size="37.5" text-anchor="end" transform="rotate(-60 806.6 1395.3)">Glu</text>
<text x="865.56" y="1396.5" font-size="37.5" text-anchor="end" transform="rotate(-60 865.56 1396.5)">Citrate</text>
<text x="930.32" y="1395.7" font-size="37.5" text-anchor="end" transform="rotate(-60 930.32 1395.7)"><tspan font-family="Liberation Serif,serif" font-size="41">α</tspan>-Ketoglutarate</text>
<text x="994.78" y="1401" font-size="37.5" text-anchor="end" transform="rotate(-60 994.78 1401)">Succinate</text>
<text x="1064.64" y="1398.5" font-size="37.5" text-anchor="end" transform="rotate(-60 1064.64 1398.5)">Fumarate</text>
<text x="1128.3" y="1395.5" font-size="37.5" text-anchor="end" transform="rotate(-60 1128.3 1395.5)">Malate</text>
<text x="944.5" y="881.5" font-size="42" text-anchor="middle">779E</text>
<text x="664.8" y="889.1" font-size="65" font-weight="bold" text-anchor="start">d</text>
</g>
<g id="panel-e">
<path d="M1311.7 1355.5V1097H1322.9V1355.5" fill="#fff" stroke="#000" stroke-width="5.6" stroke-linejoin="miter"/>
<path d="M1336.4 1355.5V1246.99H1347.6V1355.5" fill="#fff" stroke="#EF2F7B" stroke-width="5.6" stroke-linejoin="miter"/>
<path d="M1378.4 1355.5V1097H1389.6V1355.5" fill="#fff" stroke="#000" stroke-width="5.6" stroke-linejoin="miter"/>
<path d="M1403.1 1355.5V1174.08H1414.3V1355.5" fill="#fff" stroke="#EF2F7B" stroke-width="5.6" stroke-linejoin="miter"/>
<path d="M1445.1 1355.5V1097H1456.3V1355.5" fill="#fff" stroke="#000" stroke-width="5.6" stroke-linejoin="miter"/>
<path d="M1469.8 1355.5V1223.99H1481V1355.5" fill="#fff" stroke="#EF2F7B" stroke-width="5.6" stroke-linejoin="miter"/>
<path d="M1511.8 1355.5V1097H1523V1355.5" fill="#fff" stroke="#000" stroke-width="5.6" stroke-linejoin="miter"/>
<path d="M1536.5 1355.5V1172.78H1547.7V1355.5" fill="#fff" stroke="#EF2F7B" stroke-width="5.6" stroke-linejoin="miter"/>
<path d="M1578.5 1355.5V1097H1589.7V1355.5" fill="#fff" stroke="#000" stroke-width="5.6" stroke-linejoin="miter"/>
<path d="M1603.2 1355.5V1145.34H1614.4V1355.5" fill="#fff" stroke="#EF2F7B" stroke-width="5.6" stroke-linejoin="miter"/>
<path d="M1645.2 1355.5V1097H1656.4V1355.5" fill="#fff" stroke="#000" stroke-width="5.6" stroke-linejoin="miter"/>
<path d="M1669.9 1355.5V1151.35H1681.1V1355.5" fill="#fff" stroke="#EF2F7B" stroke-width="5.6" stroke-linejoin="miter"/>
<line x1="1317.3" y1="1088" x2="1317.3" y2="1100.4" stroke="#000" stroke-width="3.2" stroke-linecap="butt"/>
<line x1="1311.7" y1="1088" x2="1322.9" y2="1088" stroke="#000" stroke-width="3" stroke-linecap="butt"/>
<line x1="1311.7" y1="1100.4" x2="1322.9" y2="1100.4" stroke="#000" stroke-width="3" stroke-linecap="butt"/>
<line x1="1342" y1="1242" x2="1342" y2="1246.37" stroke="#EF2F7B" stroke-width="3.2" stroke-linecap="butt"/>
<line x1="1336.4" y1="1242" x2="1347.6" y2="1242" stroke="#EF2F7B" stroke-width="3" stroke-linecap="butt"/>
<line x1="1336.4" y1="1246.37" x2="1347.6" y2="1246.37" stroke="#EF2F7B" stroke-width="3" stroke-linecap="butt"/>
<line x1="1384" y1="1083.5" x2="1384" y2="1104.9" stroke="#000" stroke-width="3.2" stroke-linecap="butt"/>
<line x1="1378.4" y1="1083.5" x2="1389.6" y2="1083.5" stroke="#000" stroke-width="3" stroke-linecap="butt"/>
<line x1="1378.4" y1="1104.9" x2="1389.6" y2="1104.9" stroke="#000" stroke-width="3" stroke-linecap="butt"/>
<line x1="1408.7" y1="1167" x2="1408.7" y2="1175.57" stroke="#EF2F7B" stroke-width="3.2" stroke-linecap="butt"/>
<line x1="1403.1" y1="1167" x2="1414.3" y2="1167" stroke="#EF2F7B" stroke-width="3" stroke-linecap="butt"/>
<line x1="1403.1" y1="1175.57" x2="1414.3" y2="1175.57" stroke="#EF2F7B" stroke-width="3" stroke-linecap="butt"/>
<line x1="1450.7" y1="1081" x2="1450.7" y2="1107.4" stroke="#000" stroke-width="3.2" stroke-linecap="butt"/>
<line x1="1445.1" y1="1081" x2="1456.3" y2="1081" stroke="#000" stroke-width="3" stroke-linecap="butt"/>
<line x1="1445.1" y1="1107.4" x2="1456.3" y2="1107.4" stroke="#000" stroke-width="3" stroke-linecap="butt"/>
<line x1="1475.4" y1="1215.4" x2="1475.4" y2="1226.98" stroke="#EF2F7B" stroke-width="3.2" stroke-linecap="butt"/>
<line x1="1469.8" y1="1215.4" x2="1481" y2="1215.4" stroke="#EF2F7B" stroke-width="3" stroke-linecap="butt"/>
<line x1="1469.8" y1="1226.98" x2="1481" y2="1226.98" stroke="#EF2F7B" stroke-width="3" stroke-linecap="butt"/>
<line x1="1517.4" y1="1082.4" x2="1517.4" y2="1106" stroke="#000" stroke-width="3.2" stroke-linecap="butt"/>
<line x1="1511.8" y1="1082.4" x2="1523" y2="1082.4" stroke="#000" stroke-width="3" stroke-linecap="butt"/>
<line x1="1511.8" y1="1106" x2="1523" y2="1106" stroke="#000" stroke-width="3" stroke-linecap="butt"/>
<line x1="1542.1" y1="1166" x2="1542.1" y2="1173.95" stroke="#EF2F7B" stroke-width="3.2" stroke-linecap="butt"/>
<line x1="1536.5" y1="1166" x2="1547.7" y2="1166" stroke="#EF2F7B" stroke-width="3" stroke-linecap="butt"/>
<line x1="1536.5" y1="1173.95" x2="1547.7" y2="1173.95" stroke="#EF2F7B" stroke-width="3" stroke-linecap="butt"/>
<line x1="1584.1" y1="1085.8" x2="1584.1" y2="1102.6" stroke="#000" stroke-width="3.2" stroke-linecap="butt"/>
<line x1="1578.5" y1="1085.8" x2="1589.7" y2="1085.8" stroke="#000" stroke-width="3" stroke-linecap="butt"/>
<line x1="1578.5" y1="1102.6" x2="1589.7" y2="1102.6" stroke="#000" stroke-width="3" stroke-linecap="butt"/>
<line x1="1608.8" y1="1139" x2="1608.8" y2="1146.08" stroke="#EF2F7B" stroke-width="3.2" stroke-linecap="butt"/>
<line x1="1603.2" y1="1139" x2="1614.4" y2="1139" stroke="#EF2F7B" stroke-width="3" stroke-linecap="butt"/>
<line x1="1603.2" y1="1146.08" x2="1614.4" y2="1146.08" stroke="#EF2F7B" stroke-width="3" stroke-linecap="butt"/>
<line x1="1650.8" y1="1081.7" x2="1650.8" y2="1106.7" stroke="#000" stroke-width="3.2" stroke-linecap="butt"/>
<line x1="1645.2" y1="1081.7" x2="1656.4" y2="1081.7" stroke="#000" stroke-width="3" stroke-linecap="butt"/>
<line x1="1645.2" y1="1106.7" x2="1656.4" y2="1106.7" stroke="#000" stroke-width="3" stroke-linecap="butt"/>
<line x1="1675.5" y1="1146" x2="1675.5" y2="1151.1" stroke="#EF2F7B" stroke-width="3.2" stroke-linecap="butt"/>
<line x1="1669.9" y1="1146" x2="1681.1" y2="1146" stroke="#EF2F7B" stroke-width="3" stroke-linecap="butt"/>
<line x1="1669.9" y1="1151.1" x2="1681.1" y2="1151.1" stroke="#EF2F7B" stroke-width="3" stroke-linecap="butt"/>
<circle cx="1312.7" cy="1084.8" r="3.7" fill="#000"/>
<circle cx="1317.3" cy="1088.5" r="3.7" fill="#000"/>
<circle cx="1321.9" cy="1089.2" r="3.7" fill="#000"/>
<circle cx="1317.3" cy="1109" r="3.7" fill="#000"/>
<circle cx="1339" cy="1243" r="3.7" fill="#EF2F7B"/>
<circle cx="1342" cy="1241.5" r="3.7" fill="#EF2F7B"/>
<circle cx="1345" cy="1243" r="3.7" fill="#EF2F7B"/>
<circle cx="1384" cy="1073.7" r="3.7" fill="#000"/>
<circle cx="1384" cy="1100" r="3.7" fill="#000"/>
<circle cx="1384" cy="1113.9" r="3.7" fill="#000"/>
<circle cx="1408.7" cy="1163.1" r="3.7" fill="#EF2F7B"/>
<circle cx="1406.7" cy="1168" r="3.7" fill="#EF2F7B"/>
<circle cx="1411.7" cy="1169" r="3.7" fill="#EF2F7B"/>
<circle cx="1450.7" cy="1073.5" r="3.7" fill="#000"/>
<circle cx="1450.7" cy="1091.3" r="3.7" fill="#000"/>
<circle cx="1450.7" cy="1118" r="3.7" fill="#000"/>
<circle cx="1475.4" cy="1209.9" r="3.7" fill="#EF2F7B"/>
<circle cx="1475.4" cy="1219" r="3.7" fill="#EF2F7B"/>
<circle cx="1517.4" cy="1078.3" r="3.7" fill="#000"/>
<circle cx="1517.4" cy="1087" r="3.7" fill="#000"/>
<circle cx="1517.4" cy="1118.6" r="3.7" fill="#000"/>
<circle cx="1538.6" cy="1161.7" r="3.7" fill="#EF2F7B"/>
<circle cx="1545.6" cy="1166.7" r="3.7" fill="#EF2F7B"/>
<circle cx="1542.1" cy="1168" r="3.7" fill="#EF2F7B"/>
<circle cx="1584.1" cy="1077.8" r="3.7" fill="#000"/>
<circle cx="1584.1" cy="1098" r="3.7" fill="#000"/>
<circle cx="1584.1" cy="1104" r="3.7" fill="#000"/>
<circle cx="1608.8" cy="1135.2" r="3.7" fill="#EF2F7B"/>
<circle cx="1606.8" cy="1141" r="3.7" fill="#EF2F7B"/>
<circle cx="1611.8" cy="1141" r="3.7" fill="#EF2F7B"/>
<circle cx="1650.8" cy="1072.8" r="3.7" fill="#000"/>
<circle cx="1650.8" cy="1091" r="3.7" fill="#000"/>
<circle cx="1650.8" cy="1115.9" r="3.7" fill="#000"/>
<circle cx="1671.8" cy="1144.2" r="3.7" fill="#EF2F7B"/>
<circle cx="1679.2" cy="1147.5" r="3.7" fill="#EF2F7B"/>
<circle cx="1675.5" cy="1147" r="3.7" fill="#EF2F7B"/>
<line x1="1300.4" y1="961.65" x2="1300.4" y2="1357.4" stroke="#000" stroke-width="4" stroke-linecap="butt"/>
<line x1="1283.8" y1="1355.5" x2="1691.7" y2="1355.5" stroke="#000" stroke-width="3.8" stroke-linecap="butt"/>
<text x="1277.3" y="1364.7" font-size="25.8" text-anchor="end">0.0</text>
<line x1="1283.8" y1="1224.85" x2="1300.4" y2="1224.85" stroke="#000" stroke-width="3.8" stroke-linecap="butt"/>
<text x="1277.3" y="1234.05" font-size="25.8" text-anchor="end">0.5</text>
<line x1="1283.8" y1="1094.2" x2="1300.4" y2="1094.2" stroke="#000" stroke-width="3.8" stroke-linecap="butt"/>
<text x="1277.3" y="1103.4" font-size="25.8" text-anchor="end">1.0</text>
<line x1="1283.8" y1="963.55" x2="1300.4" y2="963.55" stroke="#000" stroke-width="3.8" stroke-linecap="butt"/>
<text x="1277.3" y="972.75" font-size="25.8" text-anchor="end">1.5</text>
<line x1="1328.5" y1="1355.5" x2="1328.5" y2="1372.4" stroke="#000" stroke-width="3.4" stroke-linecap="butt"/>
<line x1="1395.2" y1="1355.5" x2="1395.2" y2="1372.4" stroke="#000" stroke-width="3.4" stroke-linecap="butt"/>
<line x1="1461.9" y1="1355.5" x2="1461.9" y2="1372.4" stroke="#000" stroke-width="3.4" stroke-linecap="butt"/>
<line x1="1528.6" y1="1355.5" x2="1528.6" y2="1372.4" stroke="#000" stroke-width="3.4" stroke-linecap="butt"/>
<line x1="1595.3" y1="1355.5" x2="1595.3" y2="1372.4" stroke="#000" stroke-width="3.4" stroke-linecap="butt"/>
<line x1="1662" y1="1355.5" x2="1662" y2="1372.4" stroke="#000" stroke-width="3.4" stroke-linecap="butt"/>
<line x1="1315.6" y1="993.8" x2="1359.3" y2="993.8" stroke="#000" stroke-width="2.4" stroke-linecap="butt"/>
<text x="1337.2" y="989.4" font-size="30" font-weight="bold" text-anchor="middle" letter-spacing="-0.3">****</text>
<line x1="1381.3" y1="992.4" x2="1425.4" y2="992.4" stroke="#000" stroke-width="2.4" stroke-linecap="butt"/>
<text x="1403.5" y="988" font-size="30" font-weight="bold" text-anchor="middle" letter-spacing="-0.3">**</text>
<line x1="1448.4" y1="991.6" x2="1492" y2="991.6" stroke="#000" stroke-width="2.4" stroke-linecap="butt"/>
<text x="1470.1" y="987.2" font-size="30" font-weight="bold" text-anchor="middle" letter-spacing="-0.3">***</text>
<line x1="1515.2" y1="991.1" x2="1559.1" y2="991.1" stroke="#000" stroke-width="2.4" stroke-linecap="butt"/>
<text x="1537.2" y="986.7" font-size="30" font-weight="bold" text-anchor="middle" letter-spacing="-0.3">**</text>
<line x1="1581.7" y1="991.1" x2="1625.5" y2="991.1" stroke="#000" stroke-width="2.4" stroke-linecap="butt"/>
<text x="1603.8" y="986.7" font-size="30" font-weight="bold" text-anchor="middle" letter-spacing="-0.3">**</text>
<line x1="1645.4" y1="982.7" x2="1689.2" y2="982.7" stroke="#000" stroke-width="2.4" stroke-linecap="butt"/>
<text x="1667.7" y="978.3" font-size="30" font-weight="bold" text-anchor="middle" letter-spacing="-0.3">*</text>
<text x="1344.1" y="1395.3" font-size="37.5" text-anchor="end" transform="rotate(-60 1344.1 1395.3)">Glu</text>
<text x="1403.1" y="1396.5" font-size="37.5" text-anchor="end" transform="rotate(-60 1403.1 1396.5)">Citrate</text>
<text x="1467.9" y="1395.7" font-size="37.5" text-anchor="end" transform="rotate(-60 1467.9 1395.7)"><tspan font-family="Liberation Serif,serif" font-size="41">α</tspan>-Ketoglutarate</text>
<text x="1532.4" y="1401" font-size="37.5" text-anchor="end" transform="rotate(-60 1532.4 1401)">Succinate</text>
<text x="1602.3" y="1398.5" font-size="37.5" text-anchor="end" transform="rotate(-60 1602.3 1398.5)">Fumarate</text>
<text x="1666" y="1395.5" font-size="37.5" text-anchor="end" transform="rotate(-60 1666 1395.5)">Malate</text>
<text x="1491" y="882.3" font-size="42" text-anchor="middle">PaTu 8988T</text>
<text x="1201.7" y="892.8" font-size="65" font-weight="bold" text-anchor="start">e</text>
</g>
<g id="panel-f">
<text x="21" y="1729.8" font-size="65" font-weight="bold" text-anchor="start">f</text>
<text x="33.3" y="2072.5" font-size="37.5" text-anchor="middle" transform="rotate(-90 33.3 2072.5)">Fold change</text>
</g>
<g id="panel-f-glu">
<path d="M167.2 2425.2V1960.96H198V2425.2" fill="#fff" stroke="#000" stroke-width="4.9" stroke-linejoin="miter"/>
<path d="M221.6 2425.2V2186.06H252.4V2425.2" fill="#fff" stroke="#000" stroke-width="4.9" stroke-linejoin="miter"/>
<path d="M276.2 2425.2V2039.51H307V2425.2" fill="#fff" stroke="#000" stroke-width="4.9" stroke-linejoin="miter"/>
<line x1="146.6" y1="1862.54" x2="146.6" y2="2427.2" stroke="#000" stroke-width="3.9" stroke-linecap="butt"/>
<line x1="131" y1="2425.2" x2="328" y2="2425.2" stroke="#000" stroke-width="4.1" stroke-linecap="butt"/>
<text x="124" y="2435.2" font-size="28" font-weight="bold" text-anchor="end">0.0</text>
<line x1="131" y1="2238.28" x2="146.6" y2="2238.28" stroke="#000" stroke-width="3.7" stroke-linecap="butt"/>
<text x="124" y="2248.28" font-size="28" font-weight="bold" text-anchor="end">0.4</text>
<line x1="131" y1="2051.36" x2="146.6" y2="2051.36" stroke="#000" stroke-width="3.7" stroke-linecap="butt"/>
<text x="124" y="2061.36" font-size="28" font-weight="bold" text-anchor="end">0.8</text>
<line x1="131" y1="1864.44" x2="146.6" y2="1864.44" stroke="#000" stroke-width="3.7" stroke-linecap="butt"/>
<text x="124" y="1874.44" font-size="28" font-weight="bold" text-anchor="end">1.2</text>
<line x1="182.6" y1="2425.2" x2="182.6" y2="2441.2" stroke="#000" stroke-width="3.9" stroke-linecap="butt"/>
<line x1="237" y1="2425.2" x2="237" y2="2441.2" stroke="#000" stroke-width="3.9" stroke-linecap="butt"/>
<line x1="291.6" y1="2425.2" x2="291.6" y2="2441.2" stroke="#000" stroke-width="3.9" stroke-linecap="butt"/>
<line x1="182.7" y1="1901.1" x2="182.7" y2="2015.8" stroke="#000" stroke-width="1.8" stroke-linecap="butt"/>
<line x1="173.1" y1="1901.1" x2="192.3" y2="1901.1" stroke="#000" stroke-width="1.8" stroke-linecap="butt"/>
<line x1="173.1" y1="2015.8" x2="192.3" y2="2015.8" stroke="#000" stroke-width="1.8" stroke-linecap="butt"/>
<line x1="237" y1="2175.3" x2="237" y2="2192.7" stroke="#000" stroke-width="1.8" stroke-linecap="butt"/>
<line x1="227.4" y1="2175.3" x2="246.6" y2="2175.3" stroke="#000" stroke-width="1.8" stroke-linecap="butt"/>
<line x1="227.4" y1="2192.7" x2="246.6" y2="2192.7" stroke="#000" stroke-width="1.8" stroke-linecap="butt"/>
<line x1="291.7" y1="1977.3" x2="291.7" y2="2096" stroke="#000" stroke-width="1.8" stroke-linecap="butt"/>
<line x1="282.1" y1="1977.3" x2="301.3" y2="1977.3" stroke="#000" stroke-width="1.8" stroke-linecap="butt"/>
<line x1="282.1" y1="2096" x2="301.3" y2="2096" stroke="#000" stroke-width="1.8" stroke-linecap="butt"/>
<circle cx="182.7" cy="1897.4" r="4" fill="#000"/>
<circle cx="182.7" cy="1935.2" r="4" fill="#000"/>
<circle cx="182.7" cy="1944.6" r="4" fill="#000"/>
<circle cx="182.7" cy="1964" r="4" fill="#000"/>
<circle cx="182.7" cy="2052.1" r="4" fill="#000"/>
<circle cx="222.8" cy="2178.2" r="4" fill="#000"/>
<circle cx="251.4" cy="2178.2" r="4" fill="#000"/>
<circle cx="236.9" cy="2182" r="4" fill="#000"/>
<circle cx="236.9" cy="2197.4" r="4" fill="#000"/>
<circle cx="291.7" cy="1962.8" r="4" fill="#000"/>
<circle cx="291.7" cy="2005.3" r="4" fill="#000"/>
<circle cx="291.7" cy="2024" r="4" fill="#000"/>
<circle cx="291.7" cy="2079.7" r="4" fill="#000"/>
<circle cx="291.7" cy="2112.6" r="4" fill="#000"/>
<line x1="182.8" y1="1852.3" x2="229.4" y2="1852.3" stroke="#000" stroke-width="3.9" stroke-linecap="round"/>
<text x="206.2" y="1848.9" font-size="29.5" font-weight="bold" text-anchor="middle" letter-spacing="-0.3">**</text>
<line x1="245.3" y1="1935.2" x2="291.5" y2="1935.2" stroke="#000" stroke-width="3.9" stroke-linecap="round"/>
<text x="268.5" y="1931.8" font-size="29.5" font-weight="bold" text-anchor="middle" letter-spacing="-0.3">*</text>
<text x="189.2" y="2468.7" font-size="31.5" font-weight="bold" text-anchor="end" transform="rotate(-45 189.2 2468.7)" style="stroke-width:.6px">Ctrl</text>
<text x="243.6" y="2468.7" font-size="31.5" font-weight="bold" text-anchor="end" transform="rotate(-45 243.6 2468.7)" style="stroke-width:.6px">DON</text>
<text x="298.2" y="2468.7" font-size="31.5" font-weight="bold" text-anchor="end" transform="rotate(-45 298.2 2468.7)" style="stroke-width:.6px">DON + Asn</text>
<text x="225" y="1749.7" font-size="42" text-anchor="middle">Glu</text>
</g>
<g id="panel-f-cit">
<path d="M463.2 2424.2V2077.95H494V2424.2" fill="#fff" stroke="#000" stroke-width="4.9" stroke-linejoin="miter"/>
<path d="M517.8 2424.2V2202.94H548.6V2424.2" fill="#fff" stroke="#000" stroke-width="4.9" stroke-linejoin="miter"/>
<path d="M572.6 2424.2V2050.82H603.4V2424.2" fill="#fff" stroke="#000" stroke-width="4.9" stroke-linejoin="miter"/>
<line x1="442.4" y1="1862.14" x2="442.4" y2="2426.2" stroke="#000" stroke-width="3.9" stroke-linecap="butt"/>
<line x1="426.8" y1="2424.2" x2="624" y2="2424.2" stroke="#000" stroke-width="4.1" stroke-linecap="butt"/>
<text x="419.8" y="2434.2" font-size="28" font-weight="bold" text-anchor="end">0.0</text>
<line x1="426.8" y1="2284.16" x2="442.4" y2="2284.16" stroke="#000" stroke-width="3.7" stroke-linecap="butt"/>
<text x="419.8" y="2294.16" font-size="28" font-weight="bold" text-anchor="end">0.4</text>
<line x1="426.8" y1="2144.12" x2="442.4" y2="2144.12" stroke="#000" stroke-width="3.7" stroke-linecap="butt"/>
<text x="419.8" y="2154.12" font-size="28" font-weight="bold" text-anchor="end">0.8</text>
<line x1="426.8" y1="2004.08" x2="442.4" y2="2004.08" stroke="#000" stroke-width="3.7" stroke-linecap="butt"/>
<text x="419.8" y="2014.08" font-size="28" font-weight="bold" text-anchor="end">1.2</text>
<line x1="426.8" y1="1864.04" x2="442.4" y2="1864.04" stroke="#000" stroke-width="3.7" stroke-linecap="butt"/>
<text x="419.8" y="1874.04" font-size="28" font-weight="bold" text-anchor="end">1.6</text>
<line x1="478.6" y1="2424.2" x2="478.6" y2="2440.2" stroke="#000" stroke-width="3.9" stroke-linecap="butt"/>
<line x1="533.2" y1="2424.2" x2="533.2" y2="2440.2" stroke="#000" stroke-width="3.9" stroke-linecap="butt"/>
<line x1="588" y1="2424.2" x2="588" y2="2440.2" stroke="#000" stroke-width="3.9" stroke-linecap="butt"/>
<line x1="478.6" y1="2027.3" x2="478.6" y2="2123.3" stroke="#000" stroke-width="1.8" stroke-linecap="butt"/>
<line x1="469" y1="2027.3" x2="488.2" y2="2027.3" stroke="#000" stroke-width="1.8" stroke-linecap="butt"/>
<line x1="469" y1="2123.3" x2="488.2" y2="2123.3" stroke="#000" stroke-width="1.8" stroke-linecap="butt"/>
<line x1="533.2" y1="2179.7" x2="533.2" y2="2215.9" stroke="#000" stroke-width="1.8" stroke-linecap="butt"/>
<line x1="523.6" y1="2179.7" x2="542.8" y2="2179.7" stroke="#000" stroke-width="1.8" stroke-linecap="butt"/>
<line x1="523.6" y1="2215.9" x2="542.8" y2="2215.9" stroke="#000" stroke-width="1.8" stroke-linecap="butt"/>
<line x1="588" y1="1943.1" x2="588" y2="2152.1" stroke="#000" stroke-width="1.8" stroke-linecap="butt"/>
<line x1="578.4" y1="1943.1" x2="597.6" y2="1943.1" stroke="#000" stroke-width="1.8" stroke-linecap="butt"/>
<line x1="578.4" y1="2152.1" x2="597.6" y2="2152.1" stroke="#000" stroke-width="1.8" stroke-linecap="butt"/>
<circle cx="478.6" cy="2024.8" r="4" fill="#000"/>
<circle cx="478.6" cy="2046.4" r="4" fill="#000"/>
<circle cx="470.9" cy="2074.5" r="4" fill="#000"/>
<circle cx="486.3" cy="2078" r="4" fill="#000"/>
<circle cx="478.6" cy="2151.7" r="4" fill="#000"/>
<circle cx="541.1" cy="2179.7" r="4" fill="#000"/>
<circle cx="525.4" cy="2186.5" r="4" fill="#000"/>
<circle cx="533.2" cy="2208.1" r="4" fill="#000"/>
<circle cx="533.2" cy="2218.9" r="4" fill="#000"/>
<circle cx="588" cy="1895.6" r="4" fill="#000"/>
<circle cx="588" cy="2015.1" r="4" fill="#000"/>
<circle cx="588" cy="2039.4" r="4" fill="#000"/>
<circle cx="588" cy="2123.7" r="4" fill="#000"/>
<circle cx="588" cy="2165.6" r="4" fill="#000"/>
<line x1="479.1" y1="1988.5" x2="533.3" y2="1988.5" stroke="#000" stroke-width="3.9" stroke-linecap="round"/>
<text x="505.9" y="1985.1" font-size="29.5" font-weight="bold" text-anchor="middle" letter-spacing="-0.3">**</text>
<line x1="533" y1="1866.2" x2="588.1" y2="1866.2" stroke="#000" stroke-width="3.9" stroke-linecap="round"/>
<text x="561.3" y="1851.6" font-size="21.5" text-anchor="middle">ns</text>
<text x="485.2" y="2467.7" font-size="31.5" font-weight="bold" text-anchor="end" transform="rotate(-45 485.2 2467.7)" style="stroke-width:.6px">Ctrl</text>
<text x="539.8" y="2467.7" font-size="31.5" font-weight="bold" text-anchor="end" transform="rotate(-45 539.8 2467.7)" style="stroke-width:.6px">DON</text>
<text x="594.6" y="2467.7" font-size="31.5" font-weight="bold" text-anchor="end" transform="rotate(-45 594.6 2467.7)" style="stroke-width:.6px">DON + Asn</text>
<text x="518.1" y="1749.7" font-size="42" text-anchor="middle">Citrate</text>
</g>
<g id="panel-f-akg">
<path d="M759.5 2426.3V2056.35H790.3V2426.3" fill="#fff" stroke="#000" stroke-width="4.9" stroke-linejoin="miter"/>
<path d="M814.2 2426.3V2328.33H845V2426.3" fill="#fff" stroke="#000" stroke-width="4.9" stroke-linejoin="miter"/>
<path d="M869 2426.3V2159.45H899.8V2426.3" fill="#fff" stroke="#000" stroke-width="4.9" stroke-linejoin="miter"/>
<line x1="738.7" y1="1864.45" x2="738.7" y2="2428.3" stroke="#000" stroke-width="3.9" stroke-linecap="butt"/>
<line x1="723.1" y1="2426.3" x2="920.6" y2="2426.3" stroke="#000" stroke-width="4.1" stroke-linecap="butt"/>
<text x="716.1" y="2436.3" font-size="28" font-weight="bold" text-anchor="end">0.0</text>
<line x1="723.1" y1="2239.65" x2="738.7" y2="2239.65" stroke="#000" stroke-width="3.7" stroke-linecap="butt"/>
<text x="716.1" y="2249.65" font-size="28" font-weight="bold" text-anchor="end">0.5</text>
<line x1="723.1" y1="2053" x2="738.7" y2="2053" stroke="#000" stroke-width="3.7" stroke-linecap="butt"/>
<text x="716.1" y="2063" font-size="28" font-weight="bold" text-anchor="end">1.0</text>
<line x1="723.1" y1="1866.35" x2="738.7" y2="1866.35" stroke="#000" stroke-width="3.7" stroke-linecap="butt"/>
<text x="716.1" y="1876.35" font-size="28" font-weight="bold" text-anchor="end">1.5</text>
<line x1="774.9" y1="2426.3" x2="774.9" y2="2442.3" stroke="#000" stroke-width="3.9" stroke-linecap="butt"/>
<line x1="829.6" y1="2426.3" x2="829.6" y2="2442.3" stroke="#000" stroke-width="3.9" stroke-linecap="butt"/>
<line x1="884.4" y1="2426.3" x2="884.4" y2="2442.3" stroke="#000" stroke-width="3.9" stroke-linecap="butt"/>
<line x1="775.1" y1="1976.2" x2="775.1" y2="2132" stroke="#000" stroke-width="1.8" stroke-linecap="butt"/>
<line x1="765.5" y1="1976.2" x2="784.7" y2="1976.2" stroke="#000" stroke-width="1.8" stroke-linecap="butt"/>
<line x1="765.5" y1="2132" x2="784.7" y2="2132" stroke="#000" stroke-width="1.8" stroke-linecap="butt"/>
<line x1="829.6" y1="2307.7" x2="829.6" y2="2342.5" stroke="#000" stroke-width="1.8" stroke-linecap="butt"/>
<line x1="820" y1="2307.7" x2="839.2" y2="2307.7" stroke="#000" stroke-width="1.8" stroke-linecap="butt"/>
<line x1="820" y1="2342.5" x2="839.2" y2="2342.5" stroke="#000" stroke-width="1.8" stroke-linecap="butt"/>
<line x1="884.6" y1="2110.2" x2="884.6" y2="2202.6" stroke="#000" stroke-width="1.8" stroke-linecap="butt"/>
<line x1="875" y1="2110.2" x2="894.2" y2="2110.2" stroke="#000" stroke-width="1.8" stroke-linecap="butt"/>
<line x1="875" y1="2202.6" x2="894.2" y2="2202.6" stroke="#000" stroke-width="1.8" stroke-linecap="butt"/>
<circle cx="775.1" cy="1970.7" r="4" fill="#000"/>
<circle cx="775.1" cy="2008.8" r="4" fill="#000"/>
<circle cx="775.1" cy="2038.5" r="4" fill="#000"/>
<circle cx="775.1" cy="2075.5" r="4" fill="#000"/>
<circle cx="775.1" cy="2173" r="4" fill="#000"/>
<circle cx="821.9" cy="2314.9" r="4" fill="#000"/>
<circle cx="837.6" cy="2311.5" r="4" fill="#000"/>
<circle cx="829.6" cy="2327" r="4" fill="#000"/>
<circle cx="829.6" cy="2348.8" r="4" fill="#000"/>
<circle cx="884.6" cy="2094.5" r="4" fill="#000"/>
<circle cx="876.8" cy="2143.1" r="4" fill="#000"/>
<circle cx="892.4" cy="2139.1" r="4" fill="#000"/>
<circle cx="876.8" cy="2202.9" r="4" fill="#000"/>
<circle cx="892.4" cy="2202.9" r="4" fill="#000"/>
<line x1="775.2" y1="1925.9" x2="829.7" y2="1925.9" stroke="#000" stroke-width="3.9" stroke-linecap="round"/>
<text x="802.5" y="1922.5" font-size="29.5" font-weight="bold" text-anchor="middle" letter-spacing="-0.3">**</text>
<line x1="829.8" y1="2047.5" x2="884.2" y2="2047.5" stroke="#000" stroke-width="3.9" stroke-linecap="round"/>
<text x="857" y="2044.1" font-size="29.5" font-weight="bold" text-anchor="middle" letter-spacing="-0.3">**</text>
<text x="781.5" y="2469.8" font-size="31.5" font-weight="bold" text-anchor="end" transform="rotate(-45 781.5 2469.8)" style="stroke-width:.6px">Ctrl</text>
<text x="836.2" y="2469.8" font-size="31.5" font-weight="bold" text-anchor="end" transform="rotate(-45 836.2 2469.8)" style="stroke-width:.6px">DON</text>
<text x="891" y="2469.8" font-size="31.5" font-weight="bold" text-anchor="end" transform="rotate(-45 891 2469.8)" style="stroke-width:.6px">DON + Asn</text>
<text x="818" y="1749.7" font-size="42" text-anchor="middle"><tspan font-family="Liberation Serif,serif" font-size="46">α</tspan>-KG</text>
</g>
<g id="panel-f-suc">
<path d="M1055.3 2424.2V1959.56H1086.1V2424.2" fill="#fff" stroke="#000" stroke-width="4.9" stroke-linejoin="miter"/>
<path d="M1109.9 2424.2V2110.02H1140.7V2424.2" fill="#fff" stroke="#000" stroke-width="4.9" stroke-linejoin="miter"/>
<path d="M1164.7 2424.2V2200.15H1195.5V2424.2" fill="#fff" stroke="#000" stroke-width="4.9" stroke-linejoin="miter"/>
<line x1="1034.2" y1="1861.9" x2="1034.2" y2="2426.2" stroke="#000" stroke-width="3.9" stroke-linecap="butt"/>
<line x1="1018.6" y1="2424.2" x2="1216.5" y2="2424.2" stroke="#000" stroke-width="4.1" stroke-linecap="butt"/>
<text x="1011.6" y="2434.2" font-size="28" font-weight="bold" text-anchor="end">0.0</text>
<line x1="1018.6" y1="2237.4" x2="1034.2" y2="2237.4" stroke="#000" stroke-width="3.7" stroke-linecap="butt"/>
<text x="1011.6" y="2247.4" font-size="28" font-weight="bold" text-anchor="end">0.4</text>
<line x1="1018.6" y1="2050.6" x2="1034.2" y2="2050.6" stroke="#000" stroke-width="3.7" stroke-linecap="butt"/>
<text x="1011.6" y="2060.6" font-size="28" font-weight="bold" text-anchor="end">0.8</text>
<line x1="1018.6" y1="1863.8" x2="1034.2" y2="1863.8" stroke="#000" stroke-width="3.7" stroke-linecap="butt"/>
<text x="1011.6" y="1873.8" font-size="28" font-weight="bold" text-anchor="end">1.2</text>
<line x1="1070.7" y1="2424.2" x2="1070.7" y2="2440.2" stroke="#000" stroke-width="3.9" stroke-linecap="butt"/>
<line x1="1125.3" y1="2424.2" x2="1125.3" y2="2440.2" stroke="#000" stroke-width="3.9" stroke-linecap="butt"/>
<line x1="1180.1" y1="2424.2" x2="1180.1" y2="2440.2" stroke="#000" stroke-width="3.9" stroke-linecap="butt"/>
<line x1="1070.7" y1="1903.5" x2="1070.7" y2="2009.8" stroke="#000" stroke-width="1.8" stroke-linecap="butt"/>
<line x1="1061.1" y1="1903.5" x2="1080.3" y2="1903.5" stroke="#000" stroke-width="1.8" stroke-linecap="butt"/>
<line x1="1061.1" y1="2009.8" x2="1080.3" y2="2009.8" stroke="#000" stroke-width="1.8" stroke-linecap="butt"/>
<line x1="1125.3" y1="2044.5" x2="1125.3" y2="2169.7" stroke="#000" stroke-width="1.8" stroke-linecap="butt"/>
<line x1="1115.7" y1="2044.5" x2="1134.9" y2="2044.5" stroke="#000" stroke-width="1.8" stroke-linecap="butt"/>
<line x1="1115.7" y1="2169.7" x2="1134.9" y2="2169.7" stroke="#000" stroke-width="1.8" stroke-linecap="butt"/>
<line x1="1180.1" y1="2055.8" x2="1180.1" y2="2334" stroke="#000" stroke-width="1.8" stroke-linecap="butt"/>
<line x1="1170.5" y1="2055.8" x2="1189.7" y2="2055.8" stroke="#000" stroke-width="1.8" stroke-linecap="butt"/>
<line x1="1170.5" y1="2334" x2="1189.7" y2="2334" stroke="#000" stroke-width="1.8" stroke-linecap="butt"/>
<circle cx="1070.7" cy="1906.8" r="4" fill="#000"/>
<circle cx="1070.7" cy="1920.2" r="4" fill="#000"/>
<circle cx="1070.7" cy="1948.3" r="4" fill="#000"/>
<circle cx="1070.7" cy="1967" r="4" fill="#000"/>
<circle cx="1070.7" cy="2041.5" r="4" fill="#000"/>
<circle cx="1125.3" cy="2013.9" r="4" fill="#000"/>
<circle cx="1117.8" cy="2130.8" r="4" fill="#000"/>
<circle cx="1132.8" cy="2135.3" r="4" fill="#000"/>
<circle cx="1125.3" cy="2149.4" r="4" fill="#000"/>
<circle cx="1180.1" cy="1948.3" r="4" fill="#000"/>
<circle cx="1180.1" cy="2233" r="4" fill="#000"/>
<circle cx="1180.1" cy="2242.8" r="4" fill="#000"/>
<circle cx="1172.4" cy="2275.3" r="4" fill="#000"/>
<circle cx="1187.6" cy="2275.3" r="4" fill="#000"/>
<line x1="1070.9" y1="1868.7" x2="1124.9" y2="1868.7" stroke="#000" stroke-width="3.9" stroke-linecap="round"/>
<text x="1098" y="1865.3" font-size="29.5" font-weight="bold" text-anchor="middle" letter-spacing="-0.3">*</text>
<line x1="1125" y1="1911" x2="1179.9" y2="1911" stroke="#000" stroke-width="3.9" stroke-linecap="round"/>
<text x="1153.7" y="1896.4" font-size="21.5" text-anchor="middle">ns</text>
<text x="1077.3" y="2467.7" font-size="31.5" font-weight="bold" text-anchor="end" transform="rotate(-45 1077.3 2467.7)" style="stroke-width:.6px">Ctrl</text>
<text x="1131.9" y="2467.7" font-size="31.5" font-weight="bold" text-anchor="end" transform="rotate(-45 1131.9 2467.7)" style="stroke-width:.6px">DON</text>
<text x="1186.7" y="2467.7" font-size="31.5" font-weight="bold" text-anchor="end" transform="rotate(-45 1186.7 2467.7)" style="stroke-width:.6px">DON + Asn</text>
<text x="1120.3" y="1749.7" font-size="42" text-anchor="middle">Succinate</text>
</g>
<g id="panel-f-fum">
<path d="M1351.7 2425.2V1961.05H1382.5V2425.2" fill="#fff" stroke="#000" stroke-width="4.9" stroke-linejoin="miter"/>
<path d="M1406.5 2425.2V2097.83H1437.3V2425.2" fill="#fff" stroke="#000" stroke-width="4.9" stroke-linejoin="miter"/>
<path d="M1461.1 2425.2V2252.32H1491.9V2425.2" fill="#fff" stroke="#000" stroke-width="4.9" stroke-linejoin="miter"/>
<line x1="1330.6" y1="1862.54" x2="1330.6" y2="2427.2" stroke="#000" stroke-width="3.9" stroke-linecap="butt"/>
<line x1="1315" y1="2425.2" x2="1512.7" y2="2425.2" stroke="#000" stroke-width="4.1" stroke-linecap="butt"/>
<text x="1308" y="2435.2" font-size="28" font-weight="bold" text-anchor="end">0.0</text>
<line x1="1315" y1="2238.28" x2="1330.6" y2="2238.28" stroke="#000" stroke-width="3.7" stroke-linecap="butt"/>
<text x="1308" y="2248.28" font-size="28" font-weight="bold" text-anchor="end">0.4</text>
<line x1="1315" y1="2051.36" x2="1330.6" y2="2051.36" stroke="#000" stroke-width="3.7" stroke-linecap="butt"/>
<text x="1308" y="2061.36" font-size="28" font-weight="bold" text-anchor="end">0.8</text>
<line x1="1315" y1="1864.44" x2="1330.6" y2="1864.44" stroke="#000" stroke-width="3.7" stroke-linecap="butt"/>
<text x="1308" y="1874.44" font-size="28" font-weight="bold" text-anchor="end">1.2</text>
<line x1="1367.1" y1="2425.2" x2="1367.1" y2="2441.2" stroke="#000" stroke-width="3.9" stroke-linecap="butt"/>
<line x1="1421.9" y1="2425.2" x2="1421.9" y2="2441.2" stroke="#000" stroke-width="3.9" stroke-linecap="butt"/>
<line x1="1476.5" y1="2425.2" x2="1476.5" y2="2441.2" stroke="#000" stroke-width="3.9" stroke-linecap="butt"/>
<line x1="1367.1" y1="1892.1" x2="1367.1" y2="2024.5" stroke="#000" stroke-width="1.8" stroke-linecap="butt"/>
<line x1="1357.5" y1="1892.1" x2="1376.7" y2="1892.1" stroke="#000" stroke-width="1.8" stroke-linecap="butt"/>
<line x1="1357.5" y1="2024.5" x2="1376.7" y2="2024.5" stroke="#000" stroke-width="1.8" stroke-linecap="butt"/>
<line x1="1421.9" y1="2076.7" x2="1421.9" y2="2112.4" stroke="#000" stroke-width="1.8" stroke-linecap="butt"/>
<line x1="1412.3" y1="2076.7" x2="1431.5" y2="2076.7" stroke="#000" stroke-width="1.8" stroke-linecap="butt"/>
<line x1="1412.3" y1="2112.4" x2="1431.5" y2="2112.4" stroke="#000" stroke-width="1.8" stroke-linecap="butt"/>
<line x1="1476.5" y1="2215.6" x2="1476.5" y2="2278.6" stroke="#000" stroke-width="1.8" stroke-linecap="butt"/>
<line x1="1466.9" y1="2215.6" x2="1486.1" y2="2215.6" stroke="#000" stroke-width="1.8" stroke-linecap="butt"/>
<line x1="1466.9" y1="2278.6" x2="1486.1" y2="2278.6" stroke="#000" stroke-width="1.8" stroke-linecap="butt"/>
<circle cx="1367.1" cy="1878.7" r="4" fill="#000"/>
<circle cx="1367.1" cy="1911.6" r="4" fill="#000"/>
<circle cx="1367.1" cy="1962.8" r="4" fill="#000"/>
<circle cx="1367.1" cy="1991.2" r="4" fill="#000"/>
<circle cx="1367.1" cy="2047.2" r="4" fill="#000"/>
<circle cx="1421.9" cy="2070.3" r="4" fill="#000"/>
<circle cx="1421.9" cy="2093.5" r="4" fill="#000"/>
<circle cx="1421.9" cy="2103.2" r="4" fill="#000"/>
<circle cx="1421.9" cy="2112.9" r="4" fill="#000"/>
<circle cx="1476.5" cy="2205.9" r="4" fill="#000"/>
<circle cx="1476.5" cy="2234.2" r="4" fill="#000"/>
<circle cx="1476.5" cy="2243.7" r="4" fill="#000"/>
<circle cx="1476.5" cy="2262.6" r="4" fill="#000"/>
<circle cx="1476.5" cy="2290.2" r="4" fill="#000"/>
<line x1="1367.5" y1="1849.3" x2="1421.5" y2="1849.3" stroke="#000" stroke-width="3.9" stroke-linecap="round"/>
<text x="1394.6" y="1845.9" font-size="29.5" font-weight="bold" text-anchor="middle" letter-spacing="-0.3">*</text>
<line x1="1421.7" y1="2029.5" x2="1476.1" y2="2029.5" stroke="#000" stroke-width="3.9" stroke-linecap="round"/>
<text x="1449.4" y="2026.1" font-size="29.5" font-weight="bold" text-anchor="middle" letter-spacing="-0.3">****</text>
<text x="1373.7" y="2468.7" font-size="31.5" font-weight="bold" text-anchor="end" transform="rotate(-45 1373.7 2468.7)" style="stroke-width:.6px">Ctrl</text>
<text x="1428.5" y="2468.7" font-size="31.5" font-weight="bold" text-anchor="end" transform="rotate(-45 1428.5 2468.7)" style="stroke-width:.6px">DON</text>
<text x="1483.1" y="2468.7" font-size="31.5" font-weight="bold" text-anchor="end" transform="rotate(-45 1483.1 2468.7)" style="stroke-width:.6px">DON + Asn</text>
<text x="1416.7" y="1749.7" font-size="42" text-anchor="middle">Fumarate</text>
</g>
<g id="panel-f-mal">
<path d="M1647.7 2424.7V1960.46H1678.5V2424.7" fill="#fff" stroke="#000" stroke-width="4.9" stroke-linejoin="miter"/>
<path d="M1702.3 2424.7V2236.26H1733.1V2424.7" fill="#fff" stroke="#000" stroke-width="4.9" stroke-linejoin="miter"/>
<path d="M1756.8 2424.7V2271.35H1787.6V2424.7" fill="#fff" stroke="#000" stroke-width="4.9" stroke-linejoin="miter"/>
<line x1="1626.9" y1="1862.04" x2="1626.9" y2="2426.7" stroke="#000" stroke-width="3.9" stroke-linecap="butt"/>
<line x1="1611.3" y1="2424.7" x2="1808.2" y2="2424.7" stroke="#000" stroke-width="4.1" stroke-linecap="butt"/>
<text x="1604.3" y="2434.7" font-size="28" font-weight="bold" text-anchor="end">0.0</text>
<line x1="1611.3" y1="2237.78" x2="1626.9" y2="2237.78" stroke="#000" stroke-width="3.7" stroke-linecap="butt"/>
<text x="1604.3" y="2247.78" font-size="28" font-weight="bold" text-anchor="end">0.4</text>
<line x1="1611.3" y1="2050.86" x2="1626.9" y2="2050.86" stroke="#000" stroke-width="3.7" stroke-linecap="butt"/>
<text x="1604.3" y="2060.86" font-size="28" font-weight="bold" text-anchor="end">0.8</text>
<line x1="1611.3" y1="1863.94" x2="1626.9" y2="1863.94" stroke="#000" stroke-width="3.7" stroke-linecap="butt"/>
<text x="1604.3" y="1873.94" font-size="28" font-weight="bold" text-anchor="end">1.2</text>
<line x1="1663.1" y1="2424.7" x2="1663.1" y2="2440.7" stroke="#000" stroke-width="3.9" stroke-linecap="butt"/>
<line x1="1717.7" y1="2424.7" x2="1717.7" y2="2440.7" stroke="#000" stroke-width="3.9" stroke-linecap="butt"/>
<line x1="1772.2" y1="2424.7" x2="1772.2" y2="2440.7" stroke="#000" stroke-width="3.9" stroke-linecap="butt"/>
<line x1="1663.2" y1="1881.4" x2="1663.2" y2="2033.4" stroke="#000" stroke-width="1.8" stroke-linecap="butt"/>
<line x1="1653.6" y1="1881.4" x2="1672.8" y2="1881.4" stroke="#000" stroke-width="1.8" stroke-linecap="butt"/>
<line x1="1653.6" y1="2033.4" x2="1672.8" y2="2033.4" stroke="#000" stroke-width="1.8" stroke-linecap="butt"/>
<line x1="1717.8" y1="2226.8" x2="1717.8" y2="2240.2" stroke="#000" stroke-width="1.8" stroke-linecap="butt"/>
<line x1="1708.2" y1="2226.8" x2="1727.4" y2="2226.8" stroke="#000" stroke-width="1.8" stroke-linecap="butt"/>
<line x1="1708.2" y1="2240.2" x2="1727.4" y2="2240.2" stroke="#000" stroke-width="1.8" stroke-linecap="butt"/>
<line x1="1772.4" y1="2235.4" x2="1772.4" y2="2301.9" stroke="#000" stroke-width="1.8" stroke-linecap="butt"/>
<line x1="1762.8" y1="2235.4" x2="1782" y2="2235.4" stroke="#000" stroke-width="1.8" stroke-linecap="butt"/>
<line x1="1762.8" y1="2301.9" x2="1782" y2="2301.9" stroke="#000" stroke-width="1.8" stroke-linecap="butt"/>
<circle cx="1663.2" cy="1863.9" r="4" fill="#000"/>
<circle cx="1655.4" cy="1934.4" r="4" fill="#000"/>
<circle cx="1671.1" cy="1934.4" r="4" fill="#000"/>
<circle cx="1663.2" cy="1985.9" r="4" fill="#000"/>
<circle cx="1663.2" cy="2070" r="4" fill="#000"/>
<circle cx="1703.4" cy="2228.6" r="4" fill="#000"/>
<circle cx="1732.3" cy="2228.6" r="4" fill="#000"/>
<circle cx="1717.9" cy="2233" r="4" fill="#000"/>
<circle cx="1717.9" cy="2243.2" r="4" fill="#000"/>
<circle cx="1772.4" cy="2223.8" r="4" fill="#000"/>
<circle cx="1764.6" cy="2261.1" r="4" fill="#000"/>
<circle cx="1780.1" cy="2256.7" r="4" fill="#000"/>
<circle cx="1772.4" cy="2294.4" r="4" fill="#000"/>
<circle cx="1772.4" cy="2308.5" r="4" fill="#000"/>
<line x1="1663.4" y1="1834" x2="1717.4" y2="1834" stroke="#000" stroke-width="3.9" stroke-linecap="round"/>
<text x="1690.7" y="1830.6" font-size="29.5" font-weight="bold" text-anchor="middle" letter-spacing="-0.3">**</text>
<line x1="1718" y1="2186.2" x2="1772.3" y2="2186.2" stroke="#000" stroke-width="3.9" stroke-linecap="round"/>
<text x="1746.5" y="2171.6" font-size="21.5" text-anchor="middle">ns</text>
<text x="1669.7" y="2468.2" font-size="31.5" font-weight="bold" text-anchor="end" transform="rotate(-45 1669.7 2468.2)" style="stroke-width:.6px">Ctrl</text>
<text x="1724.3" y="2468.2" font-size="31.5" font-weight="bold" text-anchor="end" transform="rotate(-45 1724.3 2468.2)" style="stroke-width:.6px">DON</text>
<text x="1778.8" y="2468.2" font-size="31.5" font-weight="bold" text-anchor="end" transform="rotate(-45 1778.8 2468.2)" style="stroke-width:.6px">DON + Asn</text>
<text x="1710.3" y="1749.7" font-size="42" text-anchor="middle">Malate</text>
</g>
</svg>
</body></html>
